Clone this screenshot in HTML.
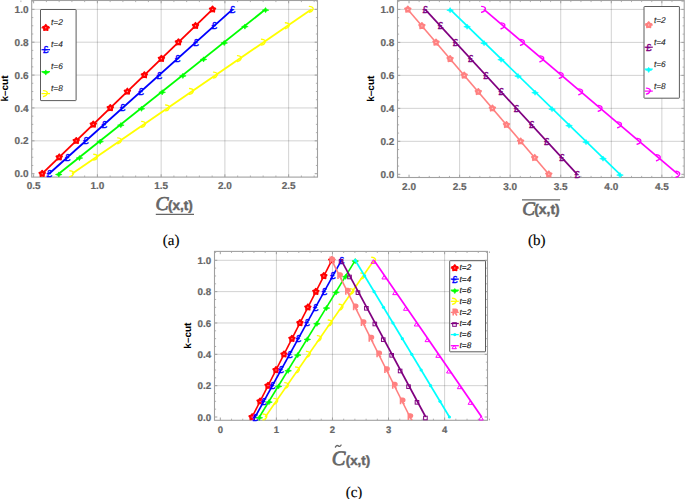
<!DOCTYPE html><html><head><meta charset="utf-8"><style>html,body{margin:0;padding:0;background:#fff;}svg{display:block;} text{text-rendering:geometricPrecision;}</style></head><body>
<svg width="685" height="499" viewBox="0 0 685 499">
<rect width="685" height="499" fill="#fff"/>
<line x1="97.4" y1="0.5" x2="97.4" y2="177.1" stroke="#000" stroke-opacity="0.18" stroke-width="1"/>
<line x1="161.15" y1="0.5" x2="161.15" y2="177.1" stroke="#000" stroke-opacity="0.18" stroke-width="1"/>
<line x1="224.9" y1="0.5" x2="224.9" y2="177.1" stroke="#000" stroke-opacity="0.18" stroke-width="1"/>
<line x1="288.65" y1="0.5" x2="288.65" y2="177.1" stroke="#000" stroke-opacity="0.18" stroke-width="1"/>
<line x1="31.7" y1="140.83" x2="317.5" y2="140.83" stroke="#000" stroke-opacity="0.18" stroke-width="1"/>
<line x1="31.7" y1="107.95" x2="317.5" y2="107.95" stroke="#000" stroke-opacity="0.18" stroke-width="1"/>
<line x1="31.7" y1="75.08" x2="317.5" y2="75.08" stroke="#000" stroke-opacity="0.18" stroke-width="1"/>
<line x1="31.7" y1="42.2" x2="317.5" y2="42.2" stroke="#000" stroke-opacity="0.18" stroke-width="1"/>
<line x1="31.7" y1="9.33" x2="317.5" y2="9.33" stroke="#000" stroke-opacity="0.18" stroke-width="1"/>
<line x1="33.65" y1="177.1" x2="33.65" y2="174.3" stroke="#a0a0a0" stroke-width="1"/>
<line x1="33.65" y1="0.5" x2="33.65" y2="3.3" stroke="#a0a0a0" stroke-width="1"/>
<line x1="97.4" y1="177.1" x2="97.4" y2="174.3" stroke="#a0a0a0" stroke-width="1"/>
<line x1="97.4" y1="0.5" x2="97.4" y2="3.3" stroke="#a0a0a0" stroke-width="1"/>
<line x1="161.15" y1="177.1" x2="161.15" y2="174.3" stroke="#a0a0a0" stroke-width="1"/>
<line x1="161.15" y1="0.5" x2="161.15" y2="3.3" stroke="#a0a0a0" stroke-width="1"/>
<line x1="224.9" y1="177.1" x2="224.9" y2="174.3" stroke="#a0a0a0" stroke-width="1"/>
<line x1="224.9" y1="0.5" x2="224.9" y2="3.3" stroke="#a0a0a0" stroke-width="1"/>
<line x1="288.65" y1="177.1" x2="288.65" y2="174.3" stroke="#a0a0a0" stroke-width="1"/>
<line x1="288.65" y1="0.5" x2="288.65" y2="3.3" stroke="#a0a0a0" stroke-width="1"/>
<line x1="46.4" y1="177.1" x2="46.4" y2="175.5" stroke="#a0a0a0" stroke-width="0.8"/>
<line x1="46.4" y1="0.5" x2="46.4" y2="2.1" stroke="#a0a0a0" stroke-width="0.8"/>
<line x1="59.15" y1="177.1" x2="59.15" y2="175.5" stroke="#a0a0a0" stroke-width="0.8"/>
<line x1="59.15" y1="0.5" x2="59.15" y2="2.1" stroke="#a0a0a0" stroke-width="0.8"/>
<line x1="71.9" y1="177.1" x2="71.9" y2="175.5" stroke="#a0a0a0" stroke-width="0.8"/>
<line x1="71.9" y1="0.5" x2="71.9" y2="2.1" stroke="#a0a0a0" stroke-width="0.8"/>
<line x1="84.65" y1="177.1" x2="84.65" y2="175.5" stroke="#a0a0a0" stroke-width="0.8"/>
<line x1="84.65" y1="0.5" x2="84.65" y2="2.1" stroke="#a0a0a0" stroke-width="0.8"/>
<line x1="110.15" y1="177.1" x2="110.15" y2="175.5" stroke="#a0a0a0" stroke-width="0.8"/>
<line x1="110.15" y1="0.5" x2="110.15" y2="2.1" stroke="#a0a0a0" stroke-width="0.8"/>
<line x1="122.9" y1="177.1" x2="122.9" y2="175.5" stroke="#a0a0a0" stroke-width="0.8"/>
<line x1="122.9" y1="0.5" x2="122.9" y2="2.1" stroke="#a0a0a0" stroke-width="0.8"/>
<line x1="135.65" y1="177.1" x2="135.65" y2="175.5" stroke="#a0a0a0" stroke-width="0.8"/>
<line x1="135.65" y1="0.5" x2="135.65" y2="2.1" stroke="#a0a0a0" stroke-width="0.8"/>
<line x1="148.4" y1="177.1" x2="148.4" y2="175.5" stroke="#a0a0a0" stroke-width="0.8"/>
<line x1="148.4" y1="0.5" x2="148.4" y2="2.1" stroke="#a0a0a0" stroke-width="0.8"/>
<line x1="173.9" y1="177.1" x2="173.9" y2="175.5" stroke="#a0a0a0" stroke-width="0.8"/>
<line x1="173.9" y1="0.5" x2="173.9" y2="2.1" stroke="#a0a0a0" stroke-width="0.8"/>
<line x1="186.65" y1="177.1" x2="186.65" y2="175.5" stroke="#a0a0a0" stroke-width="0.8"/>
<line x1="186.65" y1="0.5" x2="186.65" y2="2.1" stroke="#a0a0a0" stroke-width="0.8"/>
<line x1="199.4" y1="177.1" x2="199.4" y2="175.5" stroke="#a0a0a0" stroke-width="0.8"/>
<line x1="199.4" y1="0.5" x2="199.4" y2="2.1" stroke="#a0a0a0" stroke-width="0.8"/>
<line x1="212.15" y1="177.1" x2="212.15" y2="175.5" stroke="#a0a0a0" stroke-width="0.8"/>
<line x1="212.15" y1="0.5" x2="212.15" y2="2.1" stroke="#a0a0a0" stroke-width="0.8"/>
<line x1="237.65" y1="177.1" x2="237.65" y2="175.5" stroke="#a0a0a0" stroke-width="0.8"/>
<line x1="237.65" y1="0.5" x2="237.65" y2="2.1" stroke="#a0a0a0" stroke-width="0.8"/>
<line x1="250.4" y1="177.1" x2="250.4" y2="175.5" stroke="#a0a0a0" stroke-width="0.8"/>
<line x1="250.4" y1="0.5" x2="250.4" y2="2.1" stroke="#a0a0a0" stroke-width="0.8"/>
<line x1="263.15" y1="177.1" x2="263.15" y2="175.5" stroke="#a0a0a0" stroke-width="0.8"/>
<line x1="263.15" y1="0.5" x2="263.15" y2="2.1" stroke="#a0a0a0" stroke-width="0.8"/>
<line x1="275.9" y1="177.1" x2="275.9" y2="175.5" stroke="#a0a0a0" stroke-width="0.8"/>
<line x1="275.9" y1="0.5" x2="275.9" y2="2.1" stroke="#a0a0a0" stroke-width="0.8"/>
<line x1="301.4" y1="177.1" x2="301.4" y2="175.5" stroke="#a0a0a0" stroke-width="0.8"/>
<line x1="301.4" y1="0.5" x2="301.4" y2="2.1" stroke="#a0a0a0" stroke-width="0.8"/>
<line x1="314.15" y1="177.1" x2="314.15" y2="175.5" stroke="#a0a0a0" stroke-width="0.8"/>
<line x1="314.15" y1="0.5" x2="314.15" y2="2.1" stroke="#a0a0a0" stroke-width="0.8"/>
<line x1="20.9" y1="177.1" x2="20.9" y2="175.5" stroke="#a0a0a0" stroke-width="0.8"/>
<line x1="20.9" y1="0.5" x2="20.9" y2="2.1" stroke="#a0a0a0" stroke-width="0.8"/>
<line x1="31.7" y1="173.7" x2="34.5" y2="173.7" stroke="#a0a0a0" stroke-width="1"/>
<line x1="317.5" y1="173.7" x2="314.7" y2="173.7" stroke="#a0a0a0" stroke-width="1"/>
<line x1="31.7" y1="140.83" x2="34.5" y2="140.83" stroke="#a0a0a0" stroke-width="1"/>
<line x1="317.5" y1="140.83" x2="314.7" y2="140.83" stroke="#a0a0a0" stroke-width="1"/>
<line x1="31.7" y1="107.95" x2="34.5" y2="107.95" stroke="#a0a0a0" stroke-width="1"/>
<line x1="317.5" y1="107.95" x2="314.7" y2="107.95" stroke="#a0a0a0" stroke-width="1"/>
<line x1="31.7" y1="75.08" x2="34.5" y2="75.08" stroke="#a0a0a0" stroke-width="1"/>
<line x1="317.5" y1="75.08" x2="314.7" y2="75.08" stroke="#a0a0a0" stroke-width="1"/>
<line x1="31.7" y1="42.2" x2="34.5" y2="42.2" stroke="#a0a0a0" stroke-width="1"/>
<line x1="317.5" y1="42.2" x2="314.7" y2="42.2" stroke="#a0a0a0" stroke-width="1"/>
<line x1="31.7" y1="9.33" x2="34.5" y2="9.33" stroke="#a0a0a0" stroke-width="1"/>
<line x1="317.5" y1="9.33" x2="314.7" y2="9.33" stroke="#a0a0a0" stroke-width="1"/>
<line x1="31.7" y1="165.48" x2="33.3" y2="165.48" stroke="#a0a0a0" stroke-width="0.8"/>
<line x1="317.5" y1="165.48" x2="315.9" y2="165.48" stroke="#a0a0a0" stroke-width="0.8"/>
<line x1="31.7" y1="157.26" x2="33.3" y2="157.26" stroke="#a0a0a0" stroke-width="0.8"/>
<line x1="317.5" y1="157.26" x2="315.9" y2="157.26" stroke="#a0a0a0" stroke-width="0.8"/>
<line x1="31.7" y1="149.04" x2="33.3" y2="149.04" stroke="#a0a0a0" stroke-width="0.8"/>
<line x1="317.5" y1="149.04" x2="315.9" y2="149.04" stroke="#a0a0a0" stroke-width="0.8"/>
<line x1="31.7" y1="132.61" x2="33.3" y2="132.61" stroke="#a0a0a0" stroke-width="0.8"/>
<line x1="317.5" y1="132.61" x2="315.9" y2="132.61" stroke="#a0a0a0" stroke-width="0.8"/>
<line x1="31.7" y1="124.39" x2="33.3" y2="124.39" stroke="#a0a0a0" stroke-width="0.8"/>
<line x1="317.5" y1="124.39" x2="315.9" y2="124.39" stroke="#a0a0a0" stroke-width="0.8"/>
<line x1="31.7" y1="116.17" x2="33.3" y2="116.17" stroke="#a0a0a0" stroke-width="0.8"/>
<line x1="317.5" y1="116.17" x2="315.9" y2="116.17" stroke="#a0a0a0" stroke-width="0.8"/>
<line x1="31.7" y1="99.73" x2="33.3" y2="99.73" stroke="#a0a0a0" stroke-width="0.8"/>
<line x1="317.5" y1="99.73" x2="315.9" y2="99.73" stroke="#a0a0a0" stroke-width="0.8"/>
<line x1="31.7" y1="91.51" x2="33.3" y2="91.51" stroke="#a0a0a0" stroke-width="0.8"/>
<line x1="317.5" y1="91.51" x2="315.9" y2="91.51" stroke="#a0a0a0" stroke-width="0.8"/>
<line x1="31.7" y1="83.3" x2="33.3" y2="83.3" stroke="#a0a0a0" stroke-width="0.8"/>
<line x1="317.5" y1="83.3" x2="315.9" y2="83.3" stroke="#a0a0a0" stroke-width="0.8"/>
<line x1="31.7" y1="66.86" x2="33.3" y2="66.86" stroke="#a0a0a0" stroke-width="0.8"/>
<line x1="317.5" y1="66.86" x2="315.9" y2="66.86" stroke="#a0a0a0" stroke-width="0.8"/>
<line x1="31.7" y1="58.64" x2="33.3" y2="58.64" stroke="#a0a0a0" stroke-width="0.8"/>
<line x1="317.5" y1="58.64" x2="315.9" y2="58.64" stroke="#a0a0a0" stroke-width="0.8"/>
<line x1="31.7" y1="50.42" x2="33.3" y2="50.42" stroke="#a0a0a0" stroke-width="0.8"/>
<line x1="317.5" y1="50.42" x2="315.9" y2="50.42" stroke="#a0a0a0" stroke-width="0.8"/>
<line x1="31.7" y1="33.99" x2="33.3" y2="33.99" stroke="#a0a0a0" stroke-width="0.8"/>
<line x1="317.5" y1="33.99" x2="315.9" y2="33.99" stroke="#a0a0a0" stroke-width="0.8"/>
<line x1="31.7" y1="25.77" x2="33.3" y2="25.77" stroke="#a0a0a0" stroke-width="0.8"/>
<line x1="317.5" y1="25.77" x2="315.9" y2="25.77" stroke="#a0a0a0" stroke-width="0.8"/>
<line x1="31.7" y1="17.55" x2="33.3" y2="17.55" stroke="#a0a0a0" stroke-width="0.8"/>
<line x1="317.5" y1="17.55" x2="315.9" y2="17.55" stroke="#a0a0a0" stroke-width="0.8"/>
<line x1="31.7" y1="1.11" x2="33.3" y2="1.11" stroke="#a0a0a0" stroke-width="0.8"/>
<line x1="317.5" y1="1.11" x2="315.9" y2="1.11" stroke="#a0a0a0" stroke-width="0.8"/>
<rect x="31.7" y="0.5" width="285.8" height="176.6" fill="none" stroke="#a0a0a0" stroke-width="1.1"/>
<text x="33.65" y="189.3" font-family='"Liberation Sans", sans-serif' font-size="10" font-weight="bold" font-style="normal" fill="#666666" text-anchor="middle" stroke="#666666" stroke-width="0.2" >0.5</text>
<text x="97.4" y="189.3" font-family='"Liberation Sans", sans-serif' font-size="10" font-weight="bold" font-style="normal" fill="#666666" text-anchor="middle" stroke="#666666" stroke-width="0.2" >1.0</text>
<text x="161.15" y="189.3" font-family='"Liberation Sans", sans-serif' font-size="10" font-weight="bold" font-style="normal" fill="#666666" text-anchor="middle" stroke="#666666" stroke-width="0.2" >1.5</text>
<text x="224.9" y="189.3" font-family='"Liberation Sans", sans-serif' font-size="10" font-weight="bold" font-style="normal" fill="#666666" text-anchor="middle" stroke="#666666" stroke-width="0.2" >2.0</text>
<text x="288.65" y="189.3" font-family='"Liberation Sans", sans-serif' font-size="10" font-weight="bold" font-style="normal" fill="#666666" text-anchor="middle" stroke="#666666" stroke-width="0.2" >2.5</text>
<text x="28.5" y="177.3" font-family='"Liberation Sans", sans-serif' font-size="10" font-weight="bold" font-style="normal" fill="#666666" text-anchor="end" stroke="#666666" stroke-width="0.2" >0.0</text>
<text x="28.5" y="144.43" font-family='"Liberation Sans", sans-serif' font-size="10" font-weight="bold" font-style="normal" fill="#666666" text-anchor="end" stroke="#666666" stroke-width="0.2" >0.2</text>
<text x="28.5" y="111.55" font-family='"Liberation Sans", sans-serif' font-size="10" font-weight="bold" font-style="normal" fill="#666666" text-anchor="end" stroke="#666666" stroke-width="0.2" >0.4</text>
<text x="28.5" y="78.68" font-family='"Liberation Sans", sans-serif' font-size="10" font-weight="bold" font-style="normal" fill="#666666" text-anchor="end" stroke="#666666" stroke-width="0.2" >0.6</text>
<text x="28.5" y="45.8" font-family='"Liberation Sans", sans-serif' font-size="10" font-weight="bold" font-style="normal" fill="#666666" text-anchor="end" stroke="#666666" stroke-width="0.2" >0.8</text>
<text x="28.5" y="12.93" font-family='"Liberation Sans", sans-serif' font-size="10" font-weight="bold" font-style="normal" fill="#666666" text-anchor="end" stroke="#666666" stroke-width="0.2" >1.0</text>
<line x1="42.19" y1="173.7" x2="212.53" y2="9.33" stroke="#ff0000" stroke-width="1.85" stroke-linecap="butt"/>
<polygon points="42.19,170.55 43.4,172.04 45.19,172.73 44.14,174.33 44.04,176.25 42.19,175.75 40.34,176.25 40.24,174.33 39.2,172.73 40.99,172.04" fill="#ff0000" stroke="#ff0000" stroke-width="1.5" stroke-linejoin="round"/><circle cx="42.19" cy="173.7" r="0.7" fill="#fff" opacity="0.55"/>
<polygon points="59.23,154.11 60.43,155.6 62.22,156.29 61.18,157.9 61.08,159.81 59.23,159.31 57.37,159.81 57.28,157.9 56.23,156.29 58.02,155.6" fill="#ff0000" stroke="#ff0000" stroke-width="1.5" stroke-linejoin="round"/><circle cx="59.23" cy="157.26" r="0.7" fill="#fff" opacity="0.55"/>
<polygon points="76.26,137.68 77.47,139.17 79.26,139.85 78.21,141.46 78.11,143.37 76.26,142.88 74.41,143.37 74.31,141.46 73.26,139.85 75.06,139.17" fill="#ff0000" stroke="#ff0000" stroke-width="1.5" stroke-linejoin="round"/><circle cx="76.26" cy="140.83" r="0.7" fill="#fff" opacity="0.55"/>
<polygon points="93.29,121.24 94.5,122.73 96.29,123.42 95.24,125.02 95.15,126.94 93.29,126.44 91.44,126.94 91.34,125.02 90.3,123.42 92.09,122.73" fill="#ff0000" stroke="#ff0000" stroke-width="1.5" stroke-linejoin="round"/><circle cx="93.29" cy="124.39" r="0.7" fill="#fff" opacity="0.55"/>
<polygon points="110.33,104.8 111.53,106.29 113.32,106.98 112.28,108.59 112.18,110.5 110.33,110 108.48,110.5 108.38,108.59 107.33,106.98 109.12,106.29" fill="#ff0000" stroke="#ff0000" stroke-width="1.5" stroke-linejoin="round"/><circle cx="110.33" cy="107.95" r="0.7" fill="#fff" opacity="0.55"/>
<polygon points="127.36,88.36 128.57,89.86 130.36,90.54 129.31,92.15 129.21,94.06 127.36,93.56 125.51,94.06 125.41,92.15 124.37,90.54 126.16,89.86" fill="#ff0000" stroke="#ff0000" stroke-width="1.5" stroke-linejoin="round"/><circle cx="127.36" cy="91.51" r="0.7" fill="#fff" opacity="0.55"/>
<polygon points="144.4,71.93 145.6,73.42 147.39,74.1 146.35,75.71 146.25,77.63 144.4,77.13 142.54,77.63 142.45,75.71 141.4,74.1 143.19,73.42" fill="#ff0000" stroke="#ff0000" stroke-width="1.5" stroke-linejoin="round"/><circle cx="144.4" cy="75.08" r="0.7" fill="#fff" opacity="0.55"/>
<polygon points="161.43,55.49 162.64,56.98 164.43,57.67 163.38,59.27 163.28,61.19 161.43,60.69 159.58,61.19 159.48,59.27 158.43,57.67 160.23,56.98" fill="#ff0000" stroke="#ff0000" stroke-width="1.5" stroke-linejoin="round"/><circle cx="161.43" cy="58.64" r="0.7" fill="#fff" opacity="0.55"/>
<polygon points="178.46,39.05 179.67,40.55 181.46,41.23 180.41,42.84 180.32,44.75 178.46,44.25 176.61,44.75 176.51,42.84 175.47,41.23 177.26,40.55" fill="#ff0000" stroke="#ff0000" stroke-width="1.5" stroke-linejoin="round"/><circle cx="178.46" cy="42.2" r="0.7" fill="#fff" opacity="0.55"/>
<polygon points="195.5,22.62 196.7,24.11 198.49,24.79 197.45,26.4 197.35,28.32 195.5,27.82 193.65,28.32 193.55,26.4 192.5,24.79 194.29,24.11" fill="#ff0000" stroke="#ff0000" stroke-width="1.5" stroke-linejoin="round"/><circle cx="195.5" cy="25.77" r="0.7" fill="#fff" opacity="0.55"/>
<polygon points="212.53,6.18 213.74,7.67 215.53,8.36 214.48,9.96 214.38,11.88 212.53,11.38 210.68,11.88 210.58,9.96 209.54,8.36 211.33,7.67" fill="#ff0000" stroke="#ff0000" stroke-width="1.5" stroke-linejoin="round"/><circle cx="212.53" cy="9.33" r="0.7" fill="#fff" opacity="0.55"/>
<line x1="49.08" y1="173.7" x2="232.55" y2="9.33" stroke="#0000ff" stroke-width="1.85" stroke-linecap="butt"/>
<text x="49.18" y="177.2" font-family='"Liberation Sans", sans-serif' font-size="10" fill="#0000ff" stroke="#0000ff" stroke-width="0.35" text-anchor="middle">&#163;</text>
<text x="67.52" y="160.76" font-family='"Liberation Sans", sans-serif' font-size="10" fill="#0000ff" stroke="#0000ff" stroke-width="0.35" text-anchor="middle">&#163;</text>
<text x="85.87" y="144.33" font-family='"Liberation Sans", sans-serif' font-size="10" fill="#0000ff" stroke="#0000ff" stroke-width="0.35" text-anchor="middle">&#163;</text>
<text x="104.22" y="127.89" font-family='"Liberation Sans", sans-serif' font-size="10" fill="#0000ff" stroke="#0000ff" stroke-width="0.35" text-anchor="middle">&#163;</text>
<text x="122.57" y="111.45" font-family='"Liberation Sans", sans-serif' font-size="10" fill="#0000ff" stroke="#0000ff" stroke-width="0.35" text-anchor="middle">&#163;</text>
<text x="140.91" y="95.01" font-family='"Liberation Sans", sans-serif' font-size="10" fill="#0000ff" stroke="#0000ff" stroke-width="0.35" text-anchor="middle">&#163;</text>
<text x="159.26" y="78.58" font-family='"Liberation Sans", sans-serif' font-size="10" fill="#0000ff" stroke="#0000ff" stroke-width="0.35" text-anchor="middle">&#163;</text>
<text x="177.61" y="62.14" font-family='"Liberation Sans", sans-serif' font-size="10" fill="#0000ff" stroke="#0000ff" stroke-width="0.35" text-anchor="middle">&#163;</text>
<text x="195.96" y="45.7" font-family='"Liberation Sans", sans-serif' font-size="10" fill="#0000ff" stroke="#0000ff" stroke-width="0.35" text-anchor="middle">&#163;</text>
<text x="214.3" y="29.27" font-family='"Liberation Sans", sans-serif' font-size="10" fill="#0000ff" stroke="#0000ff" stroke-width="0.35" text-anchor="middle">&#163;</text>
<text x="232.65" y="12.83" font-family='"Liberation Sans", sans-serif' font-size="10" fill="#0000ff" stroke="#0000ff" stroke-width="0.35" text-anchor="middle">&#163;</text>
<line x1="58.77" y1="173.7" x2="265.57" y2="9.33" stroke="#00ff00" stroke-width="1.85" stroke-linecap="butt"/>
<path d="M55.47,174.5 L57.86,173.59 L58.77,171.9 L59.68,173.59 L62.07,174.5 L59.68,175.41 L58.77,177.1 L57.86,175.41 Z" fill="#00ff00" stroke="#00ff00" stroke-width="0.6" stroke-linejoin="round"/>
<path d="M76.15,158.06 L78.54,157.15 L79.45,155.46 L80.36,157.15 L82.75,158.06 L80.36,158.97 L79.45,160.66 L78.54,158.97 Z" fill="#00ff00" stroke="#00ff00" stroke-width="0.6" stroke-linejoin="round"/>
<path d="M96.83,141.63 L99.22,140.72 L100.13,139.03 L101.04,140.72 L103.43,141.63 L101.04,142.54 L100.13,144.23 L99.22,142.54 Z" fill="#00ff00" stroke="#00ff00" stroke-width="0.6" stroke-linejoin="round"/>
<path d="M117.51,125.19 L119.9,124.28 L120.81,122.59 L121.72,124.28 L124.11,125.19 L121.72,126.1 L120.81,127.79 L119.9,126.1 Z" fill="#00ff00" stroke="#00ff00" stroke-width="0.6" stroke-linejoin="round"/>
<path d="M138.19,108.75 L140.58,107.84 L141.49,106.15 L142.4,107.84 L144.79,108.75 L142.4,109.66 L141.49,111.35 L140.58,109.66 Z" fill="#00ff00" stroke="#00ff00" stroke-width="0.6" stroke-linejoin="round"/>
<path d="M158.87,92.31 L161.26,91.4 L162.17,89.71 L163.08,91.4 L165.47,92.31 L163.08,93.22 L162.17,94.91 L161.26,93.22 Z" fill="#00ff00" stroke="#00ff00" stroke-width="0.6" stroke-linejoin="round"/>
<path d="M179.55,75.88 L181.94,74.97 L182.85,73.28 L183.76,74.97 L186.15,75.88 L183.76,76.79 L182.85,78.48 L181.94,76.79 Z" fill="#00ff00" stroke="#00ff00" stroke-width="0.6" stroke-linejoin="round"/>
<path d="M200.23,59.44 L202.62,58.53 L203.53,56.84 L204.44,58.53 L206.83,59.44 L204.44,60.35 L203.53,62.04 L202.62,60.35 Z" fill="#00ff00" stroke="#00ff00" stroke-width="0.6" stroke-linejoin="round"/>
<path d="M220.91,43 L223.3,42.09 L224.21,40.4 L225.12,42.09 L227.51,43 L225.12,43.91 L224.21,45.6 L223.3,43.91 Z" fill="#00ff00" stroke="#00ff00" stroke-width="0.6" stroke-linejoin="round"/>
<path d="M241.59,26.57 L243.98,25.66 L244.89,23.97 L245.8,25.66 L248.19,26.57 L245.8,27.48 L244.89,29.17 L243.98,27.48 Z" fill="#00ff00" stroke="#00ff00" stroke-width="0.6" stroke-linejoin="round"/>
<path d="M262.27,10.13 L264.66,9.22 L265.57,7.53 L266.48,9.22 L268.87,10.13 L266.48,11.04 L265.57,12.73 L264.66,11.04 Z" fill="#00ff00" stroke="#00ff00" stroke-width="0.6" stroke-linejoin="round"/>
<line x1="72.03" y1="173.7" x2="311.6" y2="9.33" stroke="#ffff00" stroke-width="1.85" stroke-linecap="butt"/>
<path d="M69.83,170.7 Q74.43,171.3 73.43,173.9 Q72.63,176.1 69.83,176.6" stroke="#ffff00" stroke-width="1.4" fill="none" stroke-linecap="round"/>
<path d="M93.78,154.26 Q98.38,154.86 97.38,157.46 Q96.58,159.66 93.78,160.16" stroke="#ffff00" stroke-width="1.4" fill="none" stroke-linecap="round"/>
<path d="M117.74,137.83 Q122.34,138.43 121.34,141.03 Q120.54,143.23 117.74,143.73" stroke="#ffff00" stroke-width="1.4" fill="none" stroke-linecap="round"/>
<path d="M141.7,121.39 Q146.3,121.99 145.3,124.59 Q144.5,126.79 141.7,127.29" stroke="#ffff00" stroke-width="1.4" fill="none" stroke-linecap="round"/>
<path d="M165.66,104.95 Q170.26,105.55 169.26,108.15 Q168.46,110.35 165.66,110.85" stroke="#ffff00" stroke-width="1.4" fill="none" stroke-linecap="round"/>
<path d="M189.61,88.51 Q194.21,89.11 193.21,91.71 Q192.41,93.91 189.61,94.41" stroke="#ffff00" stroke-width="1.4" fill="none" stroke-linecap="round"/>
<path d="M213.57,72.08 Q218.17,72.68 217.17,75.28 Q216.37,77.48 213.57,77.98" stroke="#ffff00" stroke-width="1.4" fill="none" stroke-linecap="round"/>
<path d="M237.53,55.64 Q242.13,56.24 241.13,58.84 Q240.33,61.04 237.53,61.54" stroke="#ffff00" stroke-width="1.4" fill="none" stroke-linecap="round"/>
<path d="M261.49,39.2 Q266.09,39.8 265.09,42.4 Q264.29,44.6 261.49,45.1" stroke="#ffff00" stroke-width="1.4" fill="none" stroke-linecap="round"/>
<path d="M285.44,22.77 Q290.04,23.37 289.04,25.97 Q288.24,28.17 285.44,28.67" stroke="#ffff00" stroke-width="1.4" fill="none" stroke-linecap="round"/>
<path d="M309.4,6.33 Q314,6.93 313,9.53 Q312.2,11.73 309.4,12.23" stroke="#ffff00" stroke-width="1.4" fill="none" stroke-linecap="round"/>
<rect x="40.5" y="9.5" width="35.6" height="91.1" fill="#fff" stroke="#5c5c5c" stroke-width="1" rx="0.5"/>
<line x1="41.5" y1="27.8" x2="50" y2="27.8" stroke="#ff0000" stroke-width="1.2"/>
<polygon points="45.8,24.65 47,26.14 48.8,26.83 47.75,28.43 47.65,30.35 45.8,29.85 43.95,30.35 43.85,28.43 42.8,26.83 44.6,26.14" fill="#ff0000" stroke="#ff0000" stroke-width="1.5" stroke-linejoin="round"/><circle cx="45.8" cy="27.8" r="0.7" fill="#fff" opacity="0.55"/>
<text x="51" y="25" font-family='"Liberation Sans", sans-serif' font-size="8.3" font-weight="normal" font-style="italic" fill="#222" text-anchor="start" stroke="#222" stroke-width="0.1" >t=2</text>
<line x1="41.5" y1="49.7" x2="50" y2="49.7" stroke="#0000ff" stroke-width="1.2"/>
<text x="45.9" y="53.2" font-family='"Liberation Sans", sans-serif' font-size="10" fill="#0000ff" stroke="#0000ff" stroke-width="0.35" text-anchor="middle">&#163;</text>
<text x="51" y="46.9" font-family='"Liberation Sans", sans-serif' font-size="8.3" font-weight="normal" font-style="italic" fill="#222" text-anchor="start" stroke="#222" stroke-width="0.1" >t=4</text>
<line x1="41.5" y1="71.7" x2="50" y2="71.7" stroke="#00ff00" stroke-width="1.2"/>
<path d="M42.5,72.5 L44.89,71.59 L45.8,69.9 L46.71,71.59 L49.1,72.5 L46.71,73.41 L45.8,75.1 L44.89,73.41 Z" fill="#00ff00" stroke="#00ff00" stroke-width="0.6" stroke-linejoin="round"/>
<text x="51" y="68.9" font-family='"Liberation Sans", sans-serif' font-size="8.3" font-weight="normal" font-style="italic" fill="#222" text-anchor="start" stroke="#222" stroke-width="0.1" >t=6</text>
<line x1="41.5" y1="93.6" x2="50" y2="93.6" stroke="#ffff00" stroke-width="1.2"/>
<path d="M43.6,90.6 Q48.2,91.2 47.2,93.8 Q46.4,96 43.6,96.5" stroke="#ffff00" stroke-width="1.4" fill="none" stroke-linecap="round"/>
<text x="51" y="90.8" font-family='"Liberation Sans", sans-serif' font-size="8.3" font-weight="normal" font-style="italic" fill="#222" text-anchor="start" stroke="#222" stroke-width="0.1" >t=8</text>
<text x="8" y="88.5" font-family='"Liberation Sans", sans-serif' font-size="10" font-weight="bold" font-style="normal" fill="#000" text-anchor="middle" transform="rotate(-90 8 88.5)">k&#8211;cut</text>
<line x1="459.61" y1="0.5" x2="459.61" y2="177.5" stroke="#000" stroke-opacity="0.18" stroke-width="1"/>
<line x1="510.17" y1="0.5" x2="510.17" y2="177.5" stroke="#000" stroke-opacity="0.18" stroke-width="1"/>
<line x1="560.74" y1="0.5" x2="560.74" y2="177.5" stroke="#000" stroke-opacity="0.18" stroke-width="1"/>
<line x1="611.3" y1="0.5" x2="611.3" y2="177.5" stroke="#000" stroke-opacity="0.18" stroke-width="1"/>
<line x1="661.87" y1="0.5" x2="661.87" y2="177.5" stroke="#000" stroke-opacity="0.18" stroke-width="1"/>
<line x1="397.5" y1="141.32" x2="684.2" y2="141.32" stroke="#000" stroke-opacity="0.18" stroke-width="1"/>
<line x1="397.5" y1="108.34" x2="684.2" y2="108.34" stroke="#000" stroke-opacity="0.18" stroke-width="1"/>
<line x1="397.5" y1="75.36" x2="684.2" y2="75.36" stroke="#000" stroke-opacity="0.18" stroke-width="1"/>
<line x1="397.5" y1="42.38" x2="684.2" y2="42.38" stroke="#000" stroke-opacity="0.18" stroke-width="1"/>
<line x1="397.5" y1="9.4" x2="684.2" y2="9.4" stroke="#000" stroke-opacity="0.18" stroke-width="1"/>
<line x1="409.04" y1="177.5" x2="409.04" y2="174.7" stroke="#a0a0a0" stroke-width="1"/>
<line x1="409.04" y1="0.5" x2="409.04" y2="3.3" stroke="#a0a0a0" stroke-width="1"/>
<line x1="459.61" y1="177.5" x2="459.61" y2="174.7" stroke="#a0a0a0" stroke-width="1"/>
<line x1="459.61" y1="0.5" x2="459.61" y2="3.3" stroke="#a0a0a0" stroke-width="1"/>
<line x1="510.17" y1="177.5" x2="510.17" y2="174.7" stroke="#a0a0a0" stroke-width="1"/>
<line x1="510.17" y1="0.5" x2="510.17" y2="3.3" stroke="#a0a0a0" stroke-width="1"/>
<line x1="560.74" y1="177.5" x2="560.74" y2="174.7" stroke="#a0a0a0" stroke-width="1"/>
<line x1="560.74" y1="0.5" x2="560.74" y2="3.3" stroke="#a0a0a0" stroke-width="1"/>
<line x1="611.3" y1="177.5" x2="611.3" y2="174.7" stroke="#a0a0a0" stroke-width="1"/>
<line x1="611.3" y1="0.5" x2="611.3" y2="3.3" stroke="#a0a0a0" stroke-width="1"/>
<line x1="661.87" y1="177.5" x2="661.87" y2="174.7" stroke="#a0a0a0" stroke-width="1"/>
<line x1="661.87" y1="0.5" x2="661.87" y2="3.3" stroke="#a0a0a0" stroke-width="1"/>
<line x1="398.93" y1="177.5" x2="398.93" y2="175.9" stroke="#a0a0a0" stroke-width="0.8"/>
<line x1="398.93" y1="0.5" x2="398.93" y2="2.1" stroke="#a0a0a0" stroke-width="0.8"/>
<line x1="419.15" y1="177.5" x2="419.15" y2="175.9" stroke="#a0a0a0" stroke-width="0.8"/>
<line x1="419.15" y1="0.5" x2="419.15" y2="2.1" stroke="#a0a0a0" stroke-width="0.8"/>
<line x1="429.27" y1="177.5" x2="429.27" y2="175.9" stroke="#a0a0a0" stroke-width="0.8"/>
<line x1="429.27" y1="0.5" x2="429.27" y2="2.1" stroke="#a0a0a0" stroke-width="0.8"/>
<line x1="439.38" y1="177.5" x2="439.38" y2="175.9" stroke="#a0a0a0" stroke-width="0.8"/>
<line x1="439.38" y1="0.5" x2="439.38" y2="2.1" stroke="#a0a0a0" stroke-width="0.8"/>
<line x1="449.49" y1="177.5" x2="449.49" y2="175.9" stroke="#a0a0a0" stroke-width="0.8"/>
<line x1="449.49" y1="0.5" x2="449.49" y2="2.1" stroke="#a0a0a0" stroke-width="0.8"/>
<line x1="469.72" y1="177.5" x2="469.72" y2="175.9" stroke="#a0a0a0" stroke-width="0.8"/>
<line x1="469.72" y1="0.5" x2="469.72" y2="2.1" stroke="#a0a0a0" stroke-width="0.8"/>
<line x1="479.83" y1="177.5" x2="479.83" y2="175.9" stroke="#a0a0a0" stroke-width="0.8"/>
<line x1="479.83" y1="0.5" x2="479.83" y2="2.1" stroke="#a0a0a0" stroke-width="0.8"/>
<line x1="489.94" y1="177.5" x2="489.94" y2="175.9" stroke="#a0a0a0" stroke-width="0.8"/>
<line x1="489.94" y1="0.5" x2="489.94" y2="2.1" stroke="#a0a0a0" stroke-width="0.8"/>
<line x1="500.06" y1="177.5" x2="500.06" y2="175.9" stroke="#a0a0a0" stroke-width="0.8"/>
<line x1="500.06" y1="0.5" x2="500.06" y2="2.1" stroke="#a0a0a0" stroke-width="0.8"/>
<line x1="520.28" y1="177.5" x2="520.28" y2="175.9" stroke="#a0a0a0" stroke-width="0.8"/>
<line x1="520.28" y1="0.5" x2="520.28" y2="2.1" stroke="#a0a0a0" stroke-width="0.8"/>
<line x1="530.4" y1="177.5" x2="530.4" y2="175.9" stroke="#a0a0a0" stroke-width="0.8"/>
<line x1="530.4" y1="0.5" x2="530.4" y2="2.1" stroke="#a0a0a0" stroke-width="0.8"/>
<line x1="540.51" y1="177.5" x2="540.51" y2="175.9" stroke="#a0a0a0" stroke-width="0.8"/>
<line x1="540.51" y1="0.5" x2="540.51" y2="2.1" stroke="#a0a0a0" stroke-width="0.8"/>
<line x1="550.62" y1="177.5" x2="550.62" y2="175.9" stroke="#a0a0a0" stroke-width="0.8"/>
<line x1="550.62" y1="0.5" x2="550.62" y2="2.1" stroke="#a0a0a0" stroke-width="0.8"/>
<line x1="570.85" y1="177.5" x2="570.85" y2="175.9" stroke="#a0a0a0" stroke-width="0.8"/>
<line x1="570.85" y1="0.5" x2="570.85" y2="2.1" stroke="#a0a0a0" stroke-width="0.8"/>
<line x1="580.96" y1="177.5" x2="580.96" y2="175.9" stroke="#a0a0a0" stroke-width="0.8"/>
<line x1="580.96" y1="0.5" x2="580.96" y2="2.1" stroke="#a0a0a0" stroke-width="0.8"/>
<line x1="591.07" y1="177.5" x2="591.07" y2="175.9" stroke="#a0a0a0" stroke-width="0.8"/>
<line x1="591.07" y1="0.5" x2="591.07" y2="2.1" stroke="#a0a0a0" stroke-width="0.8"/>
<line x1="601.19" y1="177.5" x2="601.19" y2="175.9" stroke="#a0a0a0" stroke-width="0.8"/>
<line x1="601.19" y1="0.5" x2="601.19" y2="2.1" stroke="#a0a0a0" stroke-width="0.8"/>
<line x1="621.41" y1="177.5" x2="621.41" y2="175.9" stroke="#a0a0a0" stroke-width="0.8"/>
<line x1="621.41" y1="0.5" x2="621.41" y2="2.1" stroke="#a0a0a0" stroke-width="0.8"/>
<line x1="631.53" y1="177.5" x2="631.53" y2="175.9" stroke="#a0a0a0" stroke-width="0.8"/>
<line x1="631.53" y1="0.5" x2="631.53" y2="2.1" stroke="#a0a0a0" stroke-width="0.8"/>
<line x1="641.64" y1="177.5" x2="641.64" y2="175.9" stroke="#a0a0a0" stroke-width="0.8"/>
<line x1="641.64" y1="0.5" x2="641.64" y2="2.1" stroke="#a0a0a0" stroke-width="0.8"/>
<line x1="651.75" y1="177.5" x2="651.75" y2="175.9" stroke="#a0a0a0" stroke-width="0.8"/>
<line x1="651.75" y1="0.5" x2="651.75" y2="2.1" stroke="#a0a0a0" stroke-width="0.8"/>
<line x1="671.98" y1="177.5" x2="671.98" y2="175.9" stroke="#a0a0a0" stroke-width="0.8"/>
<line x1="671.98" y1="0.5" x2="671.98" y2="2.1" stroke="#a0a0a0" stroke-width="0.8"/>
<line x1="682.09" y1="177.5" x2="682.09" y2="175.9" stroke="#a0a0a0" stroke-width="0.8"/>
<line x1="682.09" y1="0.5" x2="682.09" y2="2.1" stroke="#a0a0a0" stroke-width="0.8"/>
<line x1="397.5" y1="174.3" x2="400.3" y2="174.3" stroke="#a0a0a0" stroke-width="1"/>
<line x1="684.2" y1="174.3" x2="681.4" y2="174.3" stroke="#a0a0a0" stroke-width="1"/>
<line x1="397.5" y1="141.32" x2="400.3" y2="141.32" stroke="#a0a0a0" stroke-width="1"/>
<line x1="684.2" y1="141.32" x2="681.4" y2="141.32" stroke="#a0a0a0" stroke-width="1"/>
<line x1="397.5" y1="108.34" x2="400.3" y2="108.34" stroke="#a0a0a0" stroke-width="1"/>
<line x1="684.2" y1="108.34" x2="681.4" y2="108.34" stroke="#a0a0a0" stroke-width="1"/>
<line x1="397.5" y1="75.36" x2="400.3" y2="75.36" stroke="#a0a0a0" stroke-width="1"/>
<line x1="684.2" y1="75.36" x2="681.4" y2="75.36" stroke="#a0a0a0" stroke-width="1"/>
<line x1="397.5" y1="42.38" x2="400.3" y2="42.38" stroke="#a0a0a0" stroke-width="1"/>
<line x1="684.2" y1="42.38" x2="681.4" y2="42.38" stroke="#a0a0a0" stroke-width="1"/>
<line x1="397.5" y1="9.4" x2="400.3" y2="9.4" stroke="#a0a0a0" stroke-width="1"/>
<line x1="684.2" y1="9.4" x2="681.4" y2="9.4" stroke="#a0a0a0" stroke-width="1"/>
<line x1="397.5" y1="166.06" x2="399.1" y2="166.06" stroke="#a0a0a0" stroke-width="0.8"/>
<line x1="684.2" y1="166.06" x2="682.6" y2="166.06" stroke="#a0a0a0" stroke-width="0.8"/>
<line x1="397.5" y1="157.81" x2="399.1" y2="157.81" stroke="#a0a0a0" stroke-width="0.8"/>
<line x1="684.2" y1="157.81" x2="682.6" y2="157.81" stroke="#a0a0a0" stroke-width="0.8"/>
<line x1="397.5" y1="149.56" x2="399.1" y2="149.56" stroke="#a0a0a0" stroke-width="0.8"/>
<line x1="684.2" y1="149.56" x2="682.6" y2="149.56" stroke="#a0a0a0" stroke-width="0.8"/>
<line x1="397.5" y1="133.08" x2="399.1" y2="133.08" stroke="#a0a0a0" stroke-width="0.8"/>
<line x1="684.2" y1="133.08" x2="682.6" y2="133.08" stroke="#a0a0a0" stroke-width="0.8"/>
<line x1="397.5" y1="124.83" x2="399.1" y2="124.83" stroke="#a0a0a0" stroke-width="0.8"/>
<line x1="684.2" y1="124.83" x2="682.6" y2="124.83" stroke="#a0a0a0" stroke-width="0.8"/>
<line x1="397.5" y1="116.59" x2="399.1" y2="116.59" stroke="#a0a0a0" stroke-width="0.8"/>
<line x1="684.2" y1="116.59" x2="682.6" y2="116.59" stroke="#a0a0a0" stroke-width="0.8"/>
<line x1="397.5" y1="100.1" x2="399.1" y2="100.1" stroke="#a0a0a0" stroke-width="0.8"/>
<line x1="684.2" y1="100.1" x2="682.6" y2="100.1" stroke="#a0a0a0" stroke-width="0.8"/>
<line x1="397.5" y1="91.85" x2="399.1" y2="91.85" stroke="#a0a0a0" stroke-width="0.8"/>
<line x1="684.2" y1="91.85" x2="682.6" y2="91.85" stroke="#a0a0a0" stroke-width="0.8"/>
<line x1="397.5" y1="83.61" x2="399.1" y2="83.61" stroke="#a0a0a0" stroke-width="0.8"/>
<line x1="684.2" y1="83.61" x2="682.6" y2="83.61" stroke="#a0a0a0" stroke-width="0.8"/>
<line x1="397.5" y1="67.12" x2="399.1" y2="67.12" stroke="#a0a0a0" stroke-width="0.8"/>
<line x1="684.2" y1="67.12" x2="682.6" y2="67.12" stroke="#a0a0a0" stroke-width="0.8"/>
<line x1="397.5" y1="58.87" x2="399.1" y2="58.87" stroke="#a0a0a0" stroke-width="0.8"/>
<line x1="684.2" y1="58.87" x2="682.6" y2="58.87" stroke="#a0a0a0" stroke-width="0.8"/>
<line x1="397.5" y1="50.62" x2="399.1" y2="50.62" stroke="#a0a0a0" stroke-width="0.8"/>
<line x1="684.2" y1="50.62" x2="682.6" y2="50.62" stroke="#a0a0a0" stroke-width="0.8"/>
<line x1="397.5" y1="34.14" x2="399.1" y2="34.14" stroke="#a0a0a0" stroke-width="0.8"/>
<line x1="684.2" y1="34.14" x2="682.6" y2="34.14" stroke="#a0a0a0" stroke-width="0.8"/>
<line x1="397.5" y1="25.89" x2="399.1" y2="25.89" stroke="#a0a0a0" stroke-width="0.8"/>
<line x1="684.2" y1="25.89" x2="682.6" y2="25.89" stroke="#a0a0a0" stroke-width="0.8"/>
<line x1="397.5" y1="17.65" x2="399.1" y2="17.65" stroke="#a0a0a0" stroke-width="0.8"/>
<line x1="684.2" y1="17.65" x2="682.6" y2="17.65" stroke="#a0a0a0" stroke-width="0.8"/>
<line x1="397.5" y1="1.16" x2="399.1" y2="1.16" stroke="#a0a0a0" stroke-width="0.8"/>
<line x1="684.2" y1="1.16" x2="682.6" y2="1.16" stroke="#a0a0a0" stroke-width="0.8"/>
<rect x="397.5" y="0.5" width="286.7" height="177" fill="none" stroke="#a0a0a0" stroke-width="1.1"/>
<text x="409.04" y="189.7" font-family='"Liberation Sans", sans-serif' font-size="10" font-weight="bold" font-style="normal" fill="#666666" text-anchor="middle" stroke="#666666" stroke-width="0.2" >2.0</text>
<text x="459.61" y="189.7" font-family='"Liberation Sans", sans-serif' font-size="10" font-weight="bold" font-style="normal" fill="#666666" text-anchor="middle" stroke="#666666" stroke-width="0.2" >2.5</text>
<text x="510.17" y="189.7" font-family='"Liberation Sans", sans-serif' font-size="10" font-weight="bold" font-style="normal" fill="#666666" text-anchor="middle" stroke="#666666" stroke-width="0.2" >3.0</text>
<text x="560.74" y="189.7" font-family='"Liberation Sans", sans-serif' font-size="10" font-weight="bold" font-style="normal" fill="#666666" text-anchor="middle" stroke="#666666" stroke-width="0.2" >3.5</text>
<text x="611.3" y="189.7" font-family='"Liberation Sans", sans-serif' font-size="10" font-weight="bold" font-style="normal" fill="#666666" text-anchor="middle" stroke="#666666" stroke-width="0.2" >4.0</text>
<text x="661.87" y="189.7" font-family='"Liberation Sans", sans-serif' font-size="10" font-weight="bold" font-style="normal" fill="#666666" text-anchor="middle" stroke="#666666" stroke-width="0.2" >4.5</text>
<text x="394.3" y="177.9" font-family='"Liberation Sans", sans-serif' font-size="10" font-weight="bold" font-style="normal" fill="#666666" text-anchor="end" stroke="#666666" stroke-width="0.2" >0.0</text>
<text x="394.3" y="144.92" font-family='"Liberation Sans", sans-serif' font-size="10" font-weight="bold" font-style="normal" fill="#666666" text-anchor="end" stroke="#666666" stroke-width="0.2" >0.2</text>
<text x="394.3" y="111.94" font-family='"Liberation Sans", sans-serif' font-size="10" font-weight="bold" font-style="normal" fill="#666666" text-anchor="end" stroke="#666666" stroke-width="0.2" >0.4</text>
<text x="394.3" y="78.96" font-family='"Liberation Sans", sans-serif' font-size="10" font-weight="bold" font-style="normal" fill="#666666" text-anchor="end" stroke="#666666" stroke-width="0.2" >0.6</text>
<text x="394.3" y="45.98" font-family='"Liberation Sans", sans-serif' font-size="10" font-weight="bold" font-style="normal" fill="#666666" text-anchor="end" stroke="#666666" stroke-width="0.2" >0.8</text>
<text x="394.3" y="13" font-family='"Liberation Sans", sans-serif' font-size="10" font-weight="bold" font-style="normal" fill="#666666" text-anchor="end" stroke="#666666" stroke-width="0.2" >1.0</text>
<line x1="548.8" y1="174.3" x2="407.83" y2="9.4" stroke="#ff8080" stroke-width="1.6" stroke-linecap="butt"/>
<polygon points="548.8,171.15 550.01,172.64 551.8,173.33 550.75,174.93 550.65,176.85 548.8,176.35 546.95,176.85 546.85,174.93 545.81,173.33 547.6,172.64" fill="#ff8080" stroke="#ff8080" stroke-width="1.5" stroke-linejoin="round"/><circle cx="548.8" cy="174.3" r="0.7" fill="#fff" opacity="0.55"/>
<polygon points="534.7,154.66 535.91,156.15 537.7,156.84 536.65,158.44 536.56,160.36 534.7,159.86 532.85,160.36 532.75,158.44 531.71,156.84 533.5,156.15" fill="#ff8080" stroke="#ff8080" stroke-width="1.5" stroke-linejoin="round"/><circle cx="534.7" cy="157.81" r="0.7" fill="#fff" opacity="0.55"/>
<polygon points="520.61,138.17 521.81,139.66 523.6,140.35 522.56,141.95 522.46,143.87 520.61,143.37 518.76,143.87 518.66,141.95 517.61,140.35 519.4,139.66" fill="#ff8080" stroke="#ff8080" stroke-width="1.5" stroke-linejoin="round"/><circle cx="520.61" cy="141.32" r="0.7" fill="#fff" opacity="0.55"/>
<polygon points="506.51,121.68 507.71,123.17 509.5,123.86 508.46,125.46 508.36,127.38 506.51,126.88 504.66,127.38 504.56,125.46 503.51,123.86 505.3,123.17" fill="#ff8080" stroke="#ff8080" stroke-width="1.5" stroke-linejoin="round"/><circle cx="506.51" cy="124.83" r="0.7" fill="#fff" opacity="0.55"/>
<polygon points="492.41,105.19 493.62,106.68 495.41,107.37 494.36,108.97 494.26,110.89 492.41,110.39 490.56,110.89 490.46,108.97 489.42,107.37 491.21,106.68" fill="#ff8080" stroke="#ff8080" stroke-width="1.5" stroke-linejoin="round"/><circle cx="492.41" cy="108.34" r="0.7" fill="#fff" opacity="0.55"/>
<polygon points="478.31,88.7 479.52,90.19 481.31,90.88 480.26,92.48 480.17,94.4 478.31,93.9 476.46,94.4 476.36,92.48 475.32,90.88 477.11,90.19" fill="#ff8080" stroke="#ff8080" stroke-width="1.5" stroke-linejoin="round"/><circle cx="478.31" cy="91.85" r="0.7" fill="#fff" opacity="0.55"/>
<polygon points="464.22,72.21 465.42,73.7 467.21,74.39 466.17,75.99 466.07,77.91 464.22,77.41 462.37,77.91 462.27,75.99 461.22,74.39 463.01,73.7" fill="#ff8080" stroke="#ff8080" stroke-width="1.5" stroke-linejoin="round"/><circle cx="464.22" cy="75.36" r="0.7" fill="#fff" opacity="0.55"/>
<polygon points="450.12,55.72 451.32,57.21 453.11,57.9 452.07,59.5 451.97,61.42 450.12,60.92 448.27,61.42 448.17,59.5 447.12,57.9 448.91,57.21" fill="#ff8080" stroke="#ff8080" stroke-width="1.5" stroke-linejoin="round"/><circle cx="450.12" cy="58.87" r="0.7" fill="#fff" opacity="0.55"/>
<polygon points="436.02,39.23 437.23,40.72 439.02,41.41 437.97,43.01 437.87,44.93 436.02,44.43 434.17,44.93 434.07,43.01 433.03,41.41 434.82,40.72" fill="#ff8080" stroke="#ff8080" stroke-width="1.5" stroke-linejoin="round"/><circle cx="436.02" cy="42.38" r="0.7" fill="#fff" opacity="0.55"/>
<polygon points="421.92,22.74 423.13,24.23 424.92,24.92 423.87,26.52 423.78,28.44 421.92,27.94 420.07,28.44 419.97,26.52 418.93,24.92 420.72,24.23" fill="#ff8080" stroke="#ff8080" stroke-width="1.5" stroke-linejoin="round"/><circle cx="421.92" cy="25.89" r="0.7" fill="#fff" opacity="0.55"/>
<polygon points="407.83,6.25 409.03,7.74 410.82,8.43 409.78,10.03 409.68,11.95 407.83,11.45 405.97,11.95 405.88,10.03 404.83,8.43 406.62,7.74" fill="#ff8080" stroke="#ff8080" stroke-width="1.5" stroke-linejoin="round"/><circle cx="407.83" cy="9.4" r="0.7" fill="#fff" opacity="0.55"/>
<line x1="577.22" y1="174.3" x2="425.12" y2="9.4" stroke="#800080" stroke-width="1.7" stroke-linecap="butt"/>
<text x="577.32" y="177.8" font-family='"Liberation Sans", sans-serif' font-size="10" fill="#800080" stroke="#800080" stroke-width="0.35" text-anchor="middle">&#163;</text>
<text x="562.11" y="161.31" font-family='"Liberation Sans", sans-serif' font-size="10" fill="#800080" stroke="#800080" stroke-width="0.35" text-anchor="middle">&#163;</text>
<text x="546.9" y="144.82" font-family='"Liberation Sans", sans-serif' font-size="10" fill="#800080" stroke="#800080" stroke-width="0.35" text-anchor="middle">&#163;</text>
<text x="531.69" y="128.33" font-family='"Liberation Sans", sans-serif' font-size="10" fill="#800080" stroke="#800080" stroke-width="0.35" text-anchor="middle">&#163;</text>
<text x="516.48" y="111.84" font-family='"Liberation Sans", sans-serif' font-size="10" fill="#800080" stroke="#800080" stroke-width="0.35" text-anchor="middle">&#163;</text>
<text x="501.27" y="95.35" font-family='"Liberation Sans", sans-serif' font-size="10" fill="#800080" stroke="#800080" stroke-width="0.35" text-anchor="middle">&#163;</text>
<text x="486.06" y="78.86" font-family='"Liberation Sans", sans-serif' font-size="10" fill="#800080" stroke="#800080" stroke-width="0.35" text-anchor="middle">&#163;</text>
<text x="470.85" y="62.37" font-family='"Liberation Sans", sans-serif' font-size="10" fill="#800080" stroke="#800080" stroke-width="0.35" text-anchor="middle">&#163;</text>
<text x="455.64" y="45.88" font-family='"Liberation Sans", sans-serif' font-size="10" fill="#800080" stroke="#800080" stroke-width="0.35" text-anchor="middle">&#163;</text>
<text x="440.43" y="29.39" font-family='"Liberation Sans", sans-serif' font-size="10" fill="#800080" stroke="#800080" stroke-width="0.35" text-anchor="middle">&#163;</text>
<text x="425.22" y="12.9" font-family='"Liberation Sans", sans-serif' font-size="10" fill="#800080" stroke="#800080" stroke-width="0.35" text-anchor="middle">&#163;</text>
<line x1="620" y1="174.3" x2="450.1" y2="9.4" stroke="#00ffff" stroke-width="1.7" stroke-linecap="butt"/>
<path d="M616.7,175.1 L619.09,174.19 L620,172.5 L620.91,174.19 L623.3,175.1 L620.91,176.01 L620,177.7 L619.09,176.01 Z" fill="#00ffff" stroke="#00ffff" stroke-width="0.6" stroke-linejoin="round"/>
<path d="M599.71,158.61 L602.1,157.7 L603.01,156.01 L603.92,157.7 L606.31,158.61 L603.92,159.52 L603.01,161.21 L602.1,159.52 Z" fill="#00ffff" stroke="#00ffff" stroke-width="0.6" stroke-linejoin="round"/>
<path d="M582.72,142.12 L585.11,141.21 L586.02,139.52 L586.93,141.21 L589.32,142.12 L586.93,143.03 L586.02,144.72 L585.11,143.03 Z" fill="#00ffff" stroke="#00ffff" stroke-width="0.6" stroke-linejoin="round"/>
<path d="M565.73,125.63 L568.12,124.72 L569.03,123.03 L569.94,124.72 L572.33,125.63 L569.94,126.54 L569.03,128.23 L568.12,126.54 Z" fill="#00ffff" stroke="#00ffff" stroke-width="0.6" stroke-linejoin="round"/>
<path d="M548.74,109.14 L551.13,108.23 L552.04,106.54 L552.95,108.23 L555.34,109.14 L552.95,110.05 L552.04,111.74 L551.13,110.05 Z" fill="#00ffff" stroke="#00ffff" stroke-width="0.6" stroke-linejoin="round"/>
<path d="M531.75,92.65 L534.14,91.74 L535.05,90.05 L535.96,91.74 L538.35,92.65 L535.96,93.56 L535.05,95.25 L534.14,93.56 Z" fill="#00ffff" stroke="#00ffff" stroke-width="0.6" stroke-linejoin="round"/>
<path d="M514.76,76.16 L517.15,75.25 L518.06,73.56 L518.97,75.25 L521.36,76.16 L518.97,77.07 L518.06,78.76 L517.15,77.07 Z" fill="#00ffff" stroke="#00ffff" stroke-width="0.6" stroke-linejoin="round"/>
<path d="M497.77,59.67 L500.16,58.76 L501.07,57.07 L501.98,58.76 L504.37,59.67 L501.98,60.58 L501.07,62.27 L500.16,60.58 Z" fill="#00ffff" stroke="#00ffff" stroke-width="0.6" stroke-linejoin="round"/>
<path d="M480.78,43.18 L483.17,42.27 L484.08,40.58 L484.99,42.27 L487.38,43.18 L484.99,44.09 L484.08,45.78 L483.17,44.09 Z" fill="#00ffff" stroke="#00ffff" stroke-width="0.6" stroke-linejoin="round"/>
<path d="M463.79,26.69 L466.18,25.78 L467.09,24.09 L468,25.78 L470.39,26.69 L468,27.6 L467.09,29.29 L466.18,27.6 Z" fill="#00ffff" stroke="#00ffff" stroke-width="0.6" stroke-linejoin="round"/>
<path d="M446.8,10.2 L449.19,9.29 L450.1,7.6 L451.01,9.29 L453.4,10.2 L451.01,11.11 L450.1,12.8 L449.19,11.11 Z" fill="#00ffff" stroke="#00ffff" stroke-width="0.6" stroke-linejoin="round"/>
<line x1="678.15" y1="174.3" x2="483.88" y2="9.4" stroke="#ff00ff" stroke-width="1.7" stroke-linecap="butt"/>
<path d="M675.95,171.3 Q680.55,171.9 679.55,174.5 Q678.75,176.7 675.95,177.2" stroke="#ff00ff" stroke-width="1.4" fill="none" stroke-linecap="round"/>
<path d="M656.52,154.81 Q661.12,155.41 660.12,158.01 Q659.32,160.21 656.52,160.71" stroke="#ff00ff" stroke-width="1.4" fill="none" stroke-linecap="round"/>
<path d="M637.09,138.32 Q641.69,138.92 640.69,141.52 Q639.89,143.72 637.09,144.22" stroke="#ff00ff" stroke-width="1.4" fill="none" stroke-linecap="round"/>
<path d="M617.67,121.83 Q622.27,122.43 621.27,125.03 Q620.47,127.23 617.67,127.73" stroke="#ff00ff" stroke-width="1.4" fill="none" stroke-linecap="round"/>
<path d="M598.24,105.34 Q602.84,105.94 601.84,108.54 Q601.04,110.74 598.24,111.24" stroke="#ff00ff" stroke-width="1.4" fill="none" stroke-linecap="round"/>
<path d="M578.81,88.85 Q583.41,89.45 582.41,92.05 Q581.61,94.25 578.81,94.75" stroke="#ff00ff" stroke-width="1.4" fill="none" stroke-linecap="round"/>
<path d="M559.38,72.36 Q563.98,72.96 562.98,75.56 Q562.18,77.76 559.38,78.26" stroke="#ff00ff" stroke-width="1.4" fill="none" stroke-linecap="round"/>
<path d="M539.96,55.87 Q544.56,56.47 543.56,59.07 Q542.76,61.27 539.96,61.77" stroke="#ff00ff" stroke-width="1.4" fill="none" stroke-linecap="round"/>
<path d="M520.53,39.38 Q525.13,39.98 524.13,42.58 Q523.33,44.78 520.53,45.28" stroke="#ff00ff" stroke-width="1.4" fill="none" stroke-linecap="round"/>
<path d="M501.1,22.89 Q505.7,23.49 504.7,26.09 Q503.9,28.29 501.1,28.79" stroke="#ff00ff" stroke-width="1.4" fill="none" stroke-linecap="round"/>
<path d="M481.68,6.4 Q486.28,7 485.28,9.6 Q484.48,11.8 481.68,12.3" stroke="#ff00ff" stroke-width="1.4" fill="none" stroke-linecap="round"/>
<rect x="644" y="6.5" width="35.4" height="91.7" fill="#fff" stroke="#5c5c5c" stroke-width="1" rx="0.5"/>
<line x1="644.6" y1="25" x2="652.8" y2="25" stroke="#ff8080" stroke-width="1.2"/>
<polygon points="648.7,21.85 649.9,23.34 651.7,24.03 650.65,25.63 650.55,27.55 648.7,27.05 646.85,27.55 646.75,25.63 645.7,24.03 647.5,23.34" fill="#ff8080" stroke="#ff8080" stroke-width="1.5" stroke-linejoin="round"/><circle cx="648.7" cy="25" r="0.7" fill="#fff" opacity="0.55"/>
<text x="653.9" y="22.6" font-family='"Liberation Sans", sans-serif' font-size="8.3" font-weight="normal" font-style="italic" fill="#222" text-anchor="start" stroke="#222" stroke-width="0.1" >t=2</text>
<line x1="644.6" y1="47.2" x2="652.8" y2="47.2" stroke="#800080" stroke-width="1.2"/>
<text x="648.8" y="50.7" font-family='"Liberation Sans", sans-serif' font-size="10" fill="#800080" stroke="#800080" stroke-width="0.35" text-anchor="middle">&#163;</text>
<text x="653.9" y="44.8" font-family='"Liberation Sans", sans-serif' font-size="8.3" font-weight="normal" font-style="italic" fill="#222" text-anchor="start" stroke="#222" stroke-width="0.1" >t=4</text>
<line x1="644.6" y1="69.1" x2="652.8" y2="69.1" stroke="#00ffff" stroke-width="1.2"/>
<path d="M645.4,69.9 L647.79,68.99 L648.7,67.3 L649.61,68.99 L652,69.9 L649.61,70.81 L648.7,72.5 L647.79,70.81 Z" fill="#00ffff" stroke="#00ffff" stroke-width="0.6" stroke-linejoin="round"/>
<text x="653.9" y="66.7" font-family='"Liberation Sans", sans-serif' font-size="8.3" font-weight="normal" font-style="italic" fill="#222" text-anchor="start" stroke="#222" stroke-width="0.1" >t=6</text>
<line x1="644.6" y1="91.1" x2="652.8" y2="91.1" stroke="#ff00ff" stroke-width="1.2"/>
<path d="M646.5,88.1 Q651.1,88.7 650.1,91.3 Q649.3,93.5 646.5,94" stroke="#ff00ff" stroke-width="1.4" fill="none" stroke-linecap="round"/>
<text x="653.9" y="88.7" font-family='"Liberation Sans", sans-serif' font-size="8.3" font-weight="normal" font-style="italic" fill="#222" text-anchor="start" stroke="#222" stroke-width="0.1" >t=8</text>
<text x="373.8" y="88.7" font-family='"Liberation Sans", sans-serif' font-size="10" font-weight="bold" font-style="normal" fill="#000" text-anchor="middle" transform="rotate(-90 373.8 88.7)">k&#8211;cut</text>
<line x1="276.38" y1="251.4" x2="276.38" y2="420.3" stroke="#000" stroke-opacity="0.18" stroke-width="1"/>
<line x1="332.46" y1="251.4" x2="332.46" y2="420.3" stroke="#000" stroke-opacity="0.18" stroke-width="1"/>
<line x1="388.54" y1="251.4" x2="388.54" y2="420.3" stroke="#000" stroke-opacity="0.18" stroke-width="1"/>
<line x1="444.62" y1="251.4" x2="444.62" y2="420.3" stroke="#000" stroke-opacity="0.18" stroke-width="1"/>
<line x1="214.5" y1="385.66" x2="487.5" y2="385.66" stroke="#000" stroke-opacity="0.18" stroke-width="1"/>
<line x1="214.5" y1="354.32" x2="487.5" y2="354.32" stroke="#000" stroke-opacity="0.18" stroke-width="1"/>
<line x1="214.5" y1="322.98" x2="487.5" y2="322.98" stroke="#000" stroke-opacity="0.18" stroke-width="1"/>
<line x1="214.5" y1="291.64" x2="487.5" y2="291.64" stroke="#000" stroke-opacity="0.18" stroke-width="1"/>
<line x1="214.5" y1="260.3" x2="487.5" y2="260.3" stroke="#000" stroke-opacity="0.18" stroke-width="1"/>
<line x1="220.3" y1="420.3" x2="220.3" y2="417.5" stroke="#a0a0a0" stroke-width="1"/>
<line x1="220.3" y1="251.4" x2="220.3" y2="254.2" stroke="#a0a0a0" stroke-width="1"/>
<line x1="276.38" y1="420.3" x2="276.38" y2="417.5" stroke="#a0a0a0" stroke-width="1"/>
<line x1="276.38" y1="251.4" x2="276.38" y2="254.2" stroke="#a0a0a0" stroke-width="1"/>
<line x1="332.46" y1="420.3" x2="332.46" y2="417.5" stroke="#a0a0a0" stroke-width="1"/>
<line x1="332.46" y1="251.4" x2="332.46" y2="254.2" stroke="#a0a0a0" stroke-width="1"/>
<line x1="388.54" y1="420.3" x2="388.54" y2="417.5" stroke="#a0a0a0" stroke-width="1"/>
<line x1="388.54" y1="251.4" x2="388.54" y2="254.2" stroke="#a0a0a0" stroke-width="1"/>
<line x1="444.62" y1="420.3" x2="444.62" y2="417.5" stroke="#a0a0a0" stroke-width="1"/>
<line x1="444.62" y1="251.4" x2="444.62" y2="254.2" stroke="#a0a0a0" stroke-width="1"/>
<line x1="231.52" y1="420.3" x2="231.52" y2="418.7" stroke="#a0a0a0" stroke-width="0.8"/>
<line x1="231.52" y1="251.4" x2="231.52" y2="253" stroke="#a0a0a0" stroke-width="0.8"/>
<line x1="242.73" y1="420.3" x2="242.73" y2="418.7" stroke="#a0a0a0" stroke-width="0.8"/>
<line x1="242.73" y1="251.4" x2="242.73" y2="253" stroke="#a0a0a0" stroke-width="0.8"/>
<line x1="253.95" y1="420.3" x2="253.95" y2="418.7" stroke="#a0a0a0" stroke-width="0.8"/>
<line x1="253.95" y1="251.4" x2="253.95" y2="253" stroke="#a0a0a0" stroke-width="0.8"/>
<line x1="265.16" y1="420.3" x2="265.16" y2="418.7" stroke="#a0a0a0" stroke-width="0.8"/>
<line x1="265.16" y1="251.4" x2="265.16" y2="253" stroke="#a0a0a0" stroke-width="0.8"/>
<line x1="287.6" y1="420.3" x2="287.6" y2="418.7" stroke="#a0a0a0" stroke-width="0.8"/>
<line x1="287.6" y1="251.4" x2="287.6" y2="253" stroke="#a0a0a0" stroke-width="0.8"/>
<line x1="298.81" y1="420.3" x2="298.81" y2="418.7" stroke="#a0a0a0" stroke-width="0.8"/>
<line x1="298.81" y1="251.4" x2="298.81" y2="253" stroke="#a0a0a0" stroke-width="0.8"/>
<line x1="310.03" y1="420.3" x2="310.03" y2="418.7" stroke="#a0a0a0" stroke-width="0.8"/>
<line x1="310.03" y1="251.4" x2="310.03" y2="253" stroke="#a0a0a0" stroke-width="0.8"/>
<line x1="321.24" y1="420.3" x2="321.24" y2="418.7" stroke="#a0a0a0" stroke-width="0.8"/>
<line x1="321.24" y1="251.4" x2="321.24" y2="253" stroke="#a0a0a0" stroke-width="0.8"/>
<line x1="343.68" y1="420.3" x2="343.68" y2="418.7" stroke="#a0a0a0" stroke-width="0.8"/>
<line x1="343.68" y1="251.4" x2="343.68" y2="253" stroke="#a0a0a0" stroke-width="0.8"/>
<line x1="354.89" y1="420.3" x2="354.89" y2="418.7" stroke="#a0a0a0" stroke-width="0.8"/>
<line x1="354.89" y1="251.4" x2="354.89" y2="253" stroke="#a0a0a0" stroke-width="0.8"/>
<line x1="366.11" y1="420.3" x2="366.11" y2="418.7" stroke="#a0a0a0" stroke-width="0.8"/>
<line x1="366.11" y1="251.4" x2="366.11" y2="253" stroke="#a0a0a0" stroke-width="0.8"/>
<line x1="377.32" y1="420.3" x2="377.32" y2="418.7" stroke="#a0a0a0" stroke-width="0.8"/>
<line x1="377.32" y1="251.4" x2="377.32" y2="253" stroke="#a0a0a0" stroke-width="0.8"/>
<line x1="399.76" y1="420.3" x2="399.76" y2="418.7" stroke="#a0a0a0" stroke-width="0.8"/>
<line x1="399.76" y1="251.4" x2="399.76" y2="253" stroke="#a0a0a0" stroke-width="0.8"/>
<line x1="410.97" y1="420.3" x2="410.97" y2="418.7" stroke="#a0a0a0" stroke-width="0.8"/>
<line x1="410.97" y1="251.4" x2="410.97" y2="253" stroke="#a0a0a0" stroke-width="0.8"/>
<line x1="422.19" y1="420.3" x2="422.19" y2="418.7" stroke="#a0a0a0" stroke-width="0.8"/>
<line x1="422.19" y1="251.4" x2="422.19" y2="253" stroke="#a0a0a0" stroke-width="0.8"/>
<line x1="433.4" y1="420.3" x2="433.4" y2="418.7" stroke="#a0a0a0" stroke-width="0.8"/>
<line x1="433.4" y1="251.4" x2="433.4" y2="253" stroke="#a0a0a0" stroke-width="0.8"/>
<line x1="455.84" y1="420.3" x2="455.84" y2="418.7" stroke="#a0a0a0" stroke-width="0.8"/>
<line x1="455.84" y1="251.4" x2="455.84" y2="253" stroke="#a0a0a0" stroke-width="0.8"/>
<line x1="467.05" y1="420.3" x2="467.05" y2="418.7" stroke="#a0a0a0" stroke-width="0.8"/>
<line x1="467.05" y1="251.4" x2="467.05" y2="253" stroke="#a0a0a0" stroke-width="0.8"/>
<line x1="478.27" y1="420.3" x2="478.27" y2="418.7" stroke="#a0a0a0" stroke-width="0.8"/>
<line x1="478.27" y1="251.4" x2="478.27" y2="253" stroke="#a0a0a0" stroke-width="0.8"/>
<line x1="489.48" y1="420.3" x2="489.48" y2="418.7" stroke="#a0a0a0" stroke-width="0.8"/>
<line x1="489.48" y1="251.4" x2="489.48" y2="253" stroke="#a0a0a0" stroke-width="0.8"/>
<line x1="214.5" y1="417" x2="217.3" y2="417" stroke="#a0a0a0" stroke-width="1"/>
<line x1="487.5" y1="417" x2="484.7" y2="417" stroke="#a0a0a0" stroke-width="1"/>
<line x1="214.5" y1="385.66" x2="217.3" y2="385.66" stroke="#a0a0a0" stroke-width="1"/>
<line x1="487.5" y1="385.66" x2="484.7" y2="385.66" stroke="#a0a0a0" stroke-width="1"/>
<line x1="214.5" y1="354.32" x2="217.3" y2="354.32" stroke="#a0a0a0" stroke-width="1"/>
<line x1="487.5" y1="354.32" x2="484.7" y2="354.32" stroke="#a0a0a0" stroke-width="1"/>
<line x1="214.5" y1="322.98" x2="217.3" y2="322.98" stroke="#a0a0a0" stroke-width="1"/>
<line x1="487.5" y1="322.98" x2="484.7" y2="322.98" stroke="#a0a0a0" stroke-width="1"/>
<line x1="214.5" y1="291.64" x2="217.3" y2="291.64" stroke="#a0a0a0" stroke-width="1"/>
<line x1="487.5" y1="291.64" x2="484.7" y2="291.64" stroke="#a0a0a0" stroke-width="1"/>
<line x1="214.5" y1="260.3" x2="217.3" y2="260.3" stroke="#a0a0a0" stroke-width="1"/>
<line x1="487.5" y1="260.3" x2="484.7" y2="260.3" stroke="#a0a0a0" stroke-width="1"/>
<line x1="214.5" y1="409.17" x2="216.1" y2="409.17" stroke="#a0a0a0" stroke-width="0.8"/>
<line x1="487.5" y1="409.17" x2="485.9" y2="409.17" stroke="#a0a0a0" stroke-width="0.8"/>
<line x1="214.5" y1="401.33" x2="216.1" y2="401.33" stroke="#a0a0a0" stroke-width="0.8"/>
<line x1="487.5" y1="401.33" x2="485.9" y2="401.33" stroke="#a0a0a0" stroke-width="0.8"/>
<line x1="214.5" y1="393.5" x2="216.1" y2="393.5" stroke="#a0a0a0" stroke-width="0.8"/>
<line x1="487.5" y1="393.5" x2="485.9" y2="393.5" stroke="#a0a0a0" stroke-width="0.8"/>
<line x1="214.5" y1="377.82" x2="216.1" y2="377.82" stroke="#a0a0a0" stroke-width="0.8"/>
<line x1="487.5" y1="377.82" x2="485.9" y2="377.82" stroke="#a0a0a0" stroke-width="0.8"/>
<line x1="214.5" y1="369.99" x2="216.1" y2="369.99" stroke="#a0a0a0" stroke-width="0.8"/>
<line x1="487.5" y1="369.99" x2="485.9" y2="369.99" stroke="#a0a0a0" stroke-width="0.8"/>
<line x1="214.5" y1="362.16" x2="216.1" y2="362.16" stroke="#a0a0a0" stroke-width="0.8"/>
<line x1="487.5" y1="362.16" x2="485.9" y2="362.16" stroke="#a0a0a0" stroke-width="0.8"/>
<line x1="214.5" y1="346.49" x2="216.1" y2="346.49" stroke="#a0a0a0" stroke-width="0.8"/>
<line x1="487.5" y1="346.49" x2="485.9" y2="346.49" stroke="#a0a0a0" stroke-width="0.8"/>
<line x1="214.5" y1="338.65" x2="216.1" y2="338.65" stroke="#a0a0a0" stroke-width="0.8"/>
<line x1="487.5" y1="338.65" x2="485.9" y2="338.65" stroke="#a0a0a0" stroke-width="0.8"/>
<line x1="214.5" y1="330.81" x2="216.1" y2="330.81" stroke="#a0a0a0" stroke-width="0.8"/>
<line x1="487.5" y1="330.81" x2="485.9" y2="330.81" stroke="#a0a0a0" stroke-width="0.8"/>
<line x1="214.5" y1="315.14" x2="216.1" y2="315.14" stroke="#a0a0a0" stroke-width="0.8"/>
<line x1="487.5" y1="315.14" x2="485.9" y2="315.14" stroke="#a0a0a0" stroke-width="0.8"/>
<line x1="214.5" y1="307.31" x2="216.1" y2="307.31" stroke="#a0a0a0" stroke-width="0.8"/>
<line x1="487.5" y1="307.31" x2="485.9" y2="307.31" stroke="#a0a0a0" stroke-width="0.8"/>
<line x1="214.5" y1="299.48" x2="216.1" y2="299.48" stroke="#a0a0a0" stroke-width="0.8"/>
<line x1="487.5" y1="299.48" x2="485.9" y2="299.48" stroke="#a0a0a0" stroke-width="0.8"/>
<line x1="214.5" y1="283.81" x2="216.1" y2="283.81" stroke="#a0a0a0" stroke-width="0.8"/>
<line x1="487.5" y1="283.81" x2="485.9" y2="283.81" stroke="#a0a0a0" stroke-width="0.8"/>
<line x1="214.5" y1="275.97" x2="216.1" y2="275.97" stroke="#a0a0a0" stroke-width="0.8"/>
<line x1="487.5" y1="275.97" x2="485.9" y2="275.97" stroke="#a0a0a0" stroke-width="0.8"/>
<line x1="214.5" y1="268.13" x2="216.1" y2="268.13" stroke="#a0a0a0" stroke-width="0.8"/>
<line x1="487.5" y1="268.13" x2="485.9" y2="268.13" stroke="#a0a0a0" stroke-width="0.8"/>
<line x1="214.5" y1="252.47" x2="216.1" y2="252.47" stroke="#a0a0a0" stroke-width="0.8"/>
<line x1="487.5" y1="252.47" x2="485.9" y2="252.47" stroke="#a0a0a0" stroke-width="0.8"/>
<rect x="214.5" y="251.4" width="273" height="168.9" fill="none" stroke="#a0a0a0" stroke-width="1.1"/>
<text x="220.3" y="432.5" font-family='"Liberation Sans", sans-serif' font-size="9.5" font-weight="bold" font-style="normal" fill="#666666" text-anchor="middle" stroke="#666666" stroke-width="0.2" >0</text>
<text x="276.38" y="432.5" font-family='"Liberation Sans", sans-serif' font-size="9.5" font-weight="bold" font-style="normal" fill="#666666" text-anchor="middle" stroke="#666666" stroke-width="0.2" >1</text>
<text x="332.46" y="432.5" font-family='"Liberation Sans", sans-serif' font-size="9.5" font-weight="bold" font-style="normal" fill="#666666" text-anchor="middle" stroke="#666666" stroke-width="0.2" >2</text>
<text x="388.54" y="432.5" font-family='"Liberation Sans", sans-serif' font-size="9.5" font-weight="bold" font-style="normal" fill="#666666" text-anchor="middle" stroke="#666666" stroke-width="0.2" >3</text>
<text x="444.62" y="432.5" font-family='"Liberation Sans", sans-serif' font-size="9.5" font-weight="bold" font-style="normal" fill="#666666" text-anchor="middle" stroke="#666666" stroke-width="0.2" >4</text>
<text x="211.1" y="420.6" font-family='"Liberation Sans", sans-serif' font-size="9.8" font-weight="bold" font-style="normal" fill="#666666" text-anchor="end" stroke="#666666" stroke-width="0.2" >0.0</text>
<text x="211.1" y="389.26" font-family='"Liberation Sans", sans-serif' font-size="9.8" font-weight="bold" font-style="normal" fill="#666666" text-anchor="end" stroke="#666666" stroke-width="0.2" >0.2</text>
<text x="211.1" y="357.92" font-family='"Liberation Sans", sans-serif' font-size="9.8" font-weight="bold" font-style="normal" fill="#666666" text-anchor="end" stroke="#666666" stroke-width="0.2" >0.4</text>
<text x="211.1" y="326.58" font-family='"Liberation Sans", sans-serif' font-size="9.8" font-weight="bold" font-style="normal" fill="#666666" text-anchor="end" stroke="#666666" stroke-width="0.2" >0.6</text>
<text x="211.1" y="295.24" font-family='"Liberation Sans", sans-serif' font-size="9.8" font-weight="bold" font-style="normal" fill="#666666" text-anchor="end" stroke="#666666" stroke-width="0.2" >0.8</text>
<text x="211.1" y="263.9" font-family='"Liberation Sans", sans-serif' font-size="9.8" font-weight="bold" font-style="normal" fill="#666666" text-anchor="end" stroke="#666666" stroke-width="0.2" >1.0</text>
<line x1="252.1" y1="417" x2="331.79" y2="260.3" stroke="#ff0000" stroke-width="1.6" stroke-linecap="butt"/>
<polygon points="252.1,413.85 253.3,415.34 255.09,416.03 254.05,417.63 253.95,419.55 252.1,419.05 250.25,419.55 250.15,417.63 249.1,416.03 250.89,415.34" fill="#ff0000" stroke="#ff0000" stroke-width="1.5" stroke-linejoin="round"/><circle cx="252.1" cy="417" r="0.7" fill="#fff" opacity="0.55"/>
<polygon points="260.07,398.18 261.27,399.67 263.06,400.36 262.02,401.96 261.92,403.88 260.07,403.38 258.21,403.88 258.12,401.96 257.07,400.36 258.86,399.67" fill="#ff0000" stroke="#ff0000" stroke-width="1.5" stroke-linejoin="round"/><circle cx="260.07" cy="401.33" r="0.7" fill="#fff" opacity="0.55"/>
<polygon points="268.04,382.51 269.24,384 271.03,384.69 269.98,386.29 269.89,388.21 268.04,387.71 266.18,388.21 266.09,386.29 265.04,384.69 266.83,384" fill="#ff0000" stroke="#ff0000" stroke-width="1.5" stroke-linejoin="round"/><circle cx="268.04" cy="385.66" r="0.7" fill="#fff" opacity="0.55"/>
<polygon points="276,366.84 277.21,368.33 279,369.02 277.95,370.62 277.86,372.54 276,372.04 274.15,372.54 274.05,370.62 273.01,369.02 274.8,368.33" fill="#ff0000" stroke="#ff0000" stroke-width="1.5" stroke-linejoin="round"/><circle cx="276" cy="369.99" r="0.7" fill="#fff" opacity="0.55"/>
<polygon points="283.97,351.17 285.18,352.66 286.97,353.35 285.92,354.95 285.82,356.87 283.97,356.37 282.12,356.87 282.02,354.95 280.98,353.35 282.77,352.66" fill="#ff0000" stroke="#ff0000" stroke-width="1.5" stroke-linejoin="round"/><circle cx="283.97" cy="354.32" r="0.7" fill="#fff" opacity="0.55"/>
<polygon points="291.94,335.5 293.15,336.99 294.94,337.68 293.89,339.28 293.79,341.2 291.94,340.7 290.09,341.2 289.99,339.28 288.95,337.68 290.74,336.99" fill="#ff0000" stroke="#ff0000" stroke-width="1.5" stroke-linejoin="round"/><circle cx="291.94" cy="338.65" r="0.7" fill="#fff" opacity="0.55"/>
<polygon points="299.91,319.83 301.12,321.32 302.91,322.01 301.86,323.61 301.76,325.53 299.91,325.03 298.06,325.53 297.96,323.61 296.92,322.01 298.71,321.32" fill="#ff0000" stroke="#ff0000" stroke-width="1.5" stroke-linejoin="round"/><circle cx="299.91" cy="322.98" r="0.7" fill="#fff" opacity="0.55"/>
<polygon points="307.88,304.16 309.09,305.65 310.88,306.34 309.83,307.94 309.73,309.86 307.88,309.36 306.03,309.86 305.93,307.94 304.88,306.34 306.68,305.65" fill="#ff0000" stroke="#ff0000" stroke-width="1.5" stroke-linejoin="round"/><circle cx="307.88" cy="307.31" r="0.7" fill="#fff" opacity="0.55"/>
<polygon points="315.85,288.49 317.05,289.98 318.84,290.67 317.8,292.27 317.7,294.19 315.85,293.69 314,294.19 313.9,292.27 312.85,290.67 314.64,289.98" fill="#ff0000" stroke="#ff0000" stroke-width="1.5" stroke-linejoin="round"/><circle cx="315.85" cy="291.64" r="0.7" fill="#fff" opacity="0.55"/>
<polygon points="323.82,272.82 325.02,274.31 326.81,275 325.77,276.6 325.67,278.52 323.82,278.02 321.97,278.52 321.87,276.6 320.82,275 322.61,274.31" fill="#ff0000" stroke="#ff0000" stroke-width="1.5" stroke-linejoin="round"/><circle cx="323.82" cy="275.97" r="0.7" fill="#fff" opacity="0.55"/>
<polygon points="331.79,257.15 332.99,258.64 334.78,259.33 333.74,260.93 333.64,262.85 331.79,262.35 329.94,262.85 329.84,260.93 328.79,259.33 330.58,258.64" fill="#ff0000" stroke="#ff0000" stroke-width="1.5" stroke-linejoin="round"/><circle cx="331.79" cy="260.3" r="0.7" fill="#fff" opacity="0.55"/>
<line x1="255.13" y1="417" x2="341.38" y2="260.3" stroke="#0000ff" stroke-width="1.6" stroke-linecap="butt"/>
<text x="255.23" y="420.5" font-family='"Liberation Sans", sans-serif' font-size="10" fill="#0000ff" stroke="#0000ff" stroke-width="0.35" text-anchor="middle">&#163;</text>
<text x="263.85" y="404.83" font-family='"Liberation Sans", sans-serif' font-size="10" fill="#0000ff" stroke="#0000ff" stroke-width="0.35" text-anchor="middle">&#163;</text>
<text x="272.48" y="389.16" font-family='"Liberation Sans", sans-serif' font-size="10" fill="#0000ff" stroke="#0000ff" stroke-width="0.35" text-anchor="middle">&#163;</text>
<text x="281.1" y="373.49" font-family='"Liberation Sans", sans-serif' font-size="10" fill="#0000ff" stroke="#0000ff" stroke-width="0.35" text-anchor="middle">&#163;</text>
<text x="289.73" y="357.82" font-family='"Liberation Sans", sans-serif' font-size="10" fill="#0000ff" stroke="#0000ff" stroke-width="0.35" text-anchor="middle">&#163;</text>
<text x="298.35" y="342.15" font-family='"Liberation Sans", sans-serif' font-size="10" fill="#0000ff" stroke="#0000ff" stroke-width="0.35" text-anchor="middle">&#163;</text>
<text x="306.98" y="326.48" font-family='"Liberation Sans", sans-serif' font-size="10" fill="#0000ff" stroke="#0000ff" stroke-width="0.35" text-anchor="middle">&#163;</text>
<text x="315.6" y="310.81" font-family='"Liberation Sans", sans-serif' font-size="10" fill="#0000ff" stroke="#0000ff" stroke-width="0.35" text-anchor="middle">&#163;</text>
<text x="324.23" y="295.14" font-family='"Liberation Sans", sans-serif' font-size="10" fill="#0000ff" stroke="#0000ff" stroke-width="0.35" text-anchor="middle">&#163;</text>
<text x="332.85" y="279.47" font-family='"Liberation Sans", sans-serif' font-size="10" fill="#0000ff" stroke="#0000ff" stroke-width="0.35" text-anchor="middle">&#163;</text>
<text x="341.48" y="263.8" font-family='"Liberation Sans", sans-serif' font-size="10" fill="#0000ff" stroke="#0000ff" stroke-width="0.35" text-anchor="middle">&#163;</text>
<line x1="259.39" y1="417" x2="355.23" y2="260.3" stroke="#00ff00" stroke-width="1.6" stroke-linecap="butt"/>
<path d="M256.09,417.8 L258.48,416.89 L259.39,415.2 L260.3,416.89 L262.69,417.8 L260.3,418.71 L259.39,420.4 L258.48,418.71 Z" fill="#00ff00" stroke="#00ff00" stroke-width="0.6" stroke-linejoin="round"/>
<path d="M265.67,402.13 L268.06,401.22 L268.97,399.53 L269.88,401.22 L272.27,402.13 L269.88,403.04 L268.97,404.73 L268.06,403.04 Z" fill="#00ff00" stroke="#00ff00" stroke-width="0.6" stroke-linejoin="round"/>
<path d="M275.26,386.46 L277.65,385.55 L278.56,383.86 L279.47,385.55 L281.86,386.46 L279.47,387.37 L278.56,389.06 L277.65,387.37 Z" fill="#00ff00" stroke="#00ff00" stroke-width="0.6" stroke-linejoin="round"/>
<path d="M284.84,370.79 L287.23,369.88 L288.14,368.19 L289.05,369.88 L291.44,370.79 L289.05,371.7 L288.14,373.39 L287.23,371.7 Z" fill="#00ff00" stroke="#00ff00" stroke-width="0.6" stroke-linejoin="round"/>
<path d="M294.42,355.12 L296.81,354.21 L297.72,352.52 L298.63,354.21 L301.02,355.12 L298.63,356.03 L297.72,357.72 L296.81,356.03 Z" fill="#00ff00" stroke="#00ff00" stroke-width="0.6" stroke-linejoin="round"/>
<path d="M304.01,339.45 L306.4,338.54 L307.31,336.85 L308.22,338.54 L310.61,339.45 L308.22,340.36 L307.31,342.05 L306.4,340.36 Z" fill="#00ff00" stroke="#00ff00" stroke-width="0.6" stroke-linejoin="round"/>
<path d="M313.59,323.78 L315.98,322.87 L316.89,321.18 L317.8,322.87 L320.19,323.78 L317.8,324.69 L316.89,326.38 L315.98,324.69 Z" fill="#00ff00" stroke="#00ff00" stroke-width="0.6" stroke-linejoin="round"/>
<path d="M323.18,308.11 L325.57,307.2 L326.48,305.51 L327.39,307.2 L329.78,308.11 L327.39,309.02 L326.48,310.71 L325.57,309.02 Z" fill="#00ff00" stroke="#00ff00" stroke-width="0.6" stroke-linejoin="round"/>
<path d="M332.76,292.44 L335.15,291.53 L336.06,289.84 L336.97,291.53 L339.36,292.44 L336.97,293.35 L336.06,295.04 L335.15,293.35 Z" fill="#00ff00" stroke="#00ff00" stroke-width="0.6" stroke-linejoin="round"/>
<path d="M342.34,276.77 L344.73,275.86 L345.64,274.17 L346.55,275.86 L348.94,276.77 L346.55,277.68 L345.64,279.37 L344.73,277.68 Z" fill="#00ff00" stroke="#00ff00" stroke-width="0.6" stroke-linejoin="round"/>
<path d="M351.93,261.1 L354.32,260.19 L355.23,258.5 L356.14,260.19 L358.53,261.1 L356.14,262.01 L355.23,263.7 L354.32,262.01 Z" fill="#00ff00" stroke="#00ff00" stroke-width="0.6" stroke-linejoin="round"/>
<line x1="265.22" y1="417" x2="373.96" y2="260.3" stroke="#ffff00" stroke-width="1.6" stroke-linecap="butt"/>
<path d="M263.02,414 Q267.62,414.6 266.62,417.2 Q265.82,419.4 263.02,419.9" stroke="#ffff00" stroke-width="1.4" fill="none" stroke-linecap="round"/>
<path d="M273.89,398.33 Q278.49,398.93 277.49,401.53 Q276.69,403.73 273.89,404.23" stroke="#ffff00" stroke-width="1.4" fill="none" stroke-linecap="round"/>
<path d="M284.77,382.66 Q289.37,383.26 288.37,385.86 Q287.57,388.06 284.77,388.56" stroke="#ffff00" stroke-width="1.4" fill="none" stroke-linecap="round"/>
<path d="M295.64,366.99 Q300.24,367.59 299.24,370.19 Q298.44,372.39 295.64,372.89" stroke="#ffff00" stroke-width="1.4" fill="none" stroke-linecap="round"/>
<path d="M306.52,351.32 Q311.12,351.92 310.12,354.52 Q309.32,356.72 306.52,357.22" stroke="#ffff00" stroke-width="1.4" fill="none" stroke-linecap="round"/>
<path d="M317.39,335.65 Q321.99,336.25 320.99,338.85 Q320.19,341.05 317.39,341.55" stroke="#ffff00" stroke-width="1.4" fill="none" stroke-linecap="round"/>
<path d="M328.26,319.98 Q332.86,320.58 331.86,323.18 Q331.06,325.38 328.26,325.88" stroke="#ffff00" stroke-width="1.4" fill="none" stroke-linecap="round"/>
<path d="M339.14,304.31 Q343.74,304.91 342.74,307.51 Q341.94,309.71 339.14,310.21" stroke="#ffff00" stroke-width="1.4" fill="none" stroke-linecap="round"/>
<path d="M350.01,288.64 Q354.61,289.24 353.61,291.84 Q352.81,294.04 350.01,294.54" stroke="#ffff00" stroke-width="1.4" fill="none" stroke-linecap="round"/>
<path d="M360.89,272.97 Q365.49,273.57 364.49,276.17 Q363.69,278.37 360.89,278.87" stroke="#ffff00" stroke-width="1.4" fill="none" stroke-linecap="round"/>
<path d="M371.76,257.3 Q376.36,257.9 375.36,260.5 Q374.56,262.7 371.76,263.2" stroke="#ffff00" stroke-width="1.4" fill="none" stroke-linecap="round"/>
<line x1="409.96" y1="417" x2="331.79" y2="260.3" stroke="#ff8080" stroke-width="1.6" stroke-linecap="butt"/>
<path d="M408.36,420 v-6 h2.5 a1.7,1.7 0 0 1 0,3.4 h-2.5 M409.96,417.4 l2.2,2.6" stroke="#ff8080" stroke-width="1.6" fill="#ff8080"/>
<path d="M400.55,404.33 v-6 h2.5 a1.7,1.7 0 0 1 0,3.4 h-2.5 M402.15,401.73 l2.2,2.6" stroke="#ff8080" stroke-width="1.6" fill="#ff8080"/>
<path d="M392.73,388.66 v-6 h2.5 a1.7,1.7 0 0 1 0,3.4 h-2.5 M394.33,386.06 l2.2,2.6" stroke="#ff8080" stroke-width="1.6" fill="#ff8080"/>
<path d="M384.91,372.99 v-6 h2.5 a1.7,1.7 0 0 1 0,3.4 h-2.5 M386.51,370.39 l2.2,2.6" stroke="#ff8080" stroke-width="1.6" fill="#ff8080"/>
<path d="M377.09,357.32 v-6 h2.5 a1.7,1.7 0 0 1 0,3.4 h-2.5 M378.69,354.72 l2.2,2.6" stroke="#ff8080" stroke-width="1.6" fill="#ff8080"/>
<path d="M369.27,341.65 v-6 h2.5 a1.7,1.7 0 0 1 0,3.4 h-2.5 M370.87,339.05 l2.2,2.6" stroke="#ff8080" stroke-width="1.6" fill="#ff8080"/>
<path d="M361.46,325.98 v-6 h2.5 a1.7,1.7 0 0 1 0,3.4 h-2.5 M363.06,323.38 l2.2,2.6" stroke="#ff8080" stroke-width="1.6" fill="#ff8080"/>
<path d="M353.64,310.31 v-6 h2.5 a1.7,1.7 0 0 1 0,3.4 h-2.5 M355.24,307.71 l2.2,2.6" stroke="#ff8080" stroke-width="1.6" fill="#ff8080"/>
<path d="M345.82,294.64 v-6 h2.5 a1.7,1.7 0 0 1 0,3.4 h-2.5 M347.42,292.04 l2.2,2.6" stroke="#ff8080" stroke-width="1.6" fill="#ff8080"/>
<path d="M338,278.97 v-6 h2.5 a1.7,1.7 0 0 1 0,3.4 h-2.5 M339.6,276.37 l2.2,2.6" stroke="#ff8080" stroke-width="1.6" fill="#ff8080"/>
<path d="M330.19,263.3 v-6 h2.5 a1.7,1.7 0 0 1 0,3.4 h-2.5 M331.79,260.7 l2.2,2.6" stroke="#ff8080" stroke-width="1.6" fill="#ff8080"/>
<line x1="425.72" y1="417" x2="341.38" y2="260.3" stroke="#800080" stroke-width="1.7" stroke-linecap="butt"/>
<rect x="423.62" y="416.2" width="3.6" height="3.6" fill="none" stroke="#800080" stroke-width="1"/>
<rect x="415.19" y="400.53" width="3.6" height="3.6" fill="none" stroke="#800080" stroke-width="1"/>
<rect x="406.75" y="384.86" width="3.6" height="3.6" fill="none" stroke="#800080" stroke-width="1"/>
<rect x="398.32" y="369.19" width="3.6" height="3.6" fill="none" stroke="#800080" stroke-width="1"/>
<rect x="389.88" y="353.52" width="3.6" height="3.6" fill="none" stroke="#800080" stroke-width="1"/>
<rect x="381.45" y="337.85" width="3.6" height="3.6" fill="none" stroke="#800080" stroke-width="1"/>
<rect x="373.01" y="322.18" width="3.6" height="3.6" fill="none" stroke="#800080" stroke-width="1"/>
<rect x="364.58" y="306.51" width="3.6" height="3.6" fill="none" stroke="#800080" stroke-width="1"/>
<rect x="356.15" y="290.84" width="3.6" height="3.6" fill="none" stroke="#800080" stroke-width="1"/>
<rect x="347.71" y="275.17" width="3.6" height="3.6" fill="none" stroke="#800080" stroke-width="1"/>
<rect x="339.28" y="259.5" width="3.6" height="3.6" fill="none" stroke="#800080" stroke-width="1"/>
<line x1="449.44" y1="417" x2="355.23" y2="260.3" stroke="#00ffff" stroke-width="1.7" stroke-linecap="butt"/>
<circle cx="449.44" cy="417" r="1.6" fill="#00ffff"/>
<circle cx="440.02" cy="401.33" r="1.6" fill="#00ffff"/>
<circle cx="430.6" cy="385.66" r="1.6" fill="#00ffff"/>
<circle cx="421.18" cy="369.99" r="1.6" fill="#00ffff"/>
<circle cx="411.76" cy="354.32" r="1.6" fill="#00ffff"/>
<circle cx="402.34" cy="338.65" r="1.6" fill="#00ffff"/>
<circle cx="392.91" cy="322.98" r="1.6" fill="#00ffff"/>
<circle cx="383.49" cy="307.31" r="1.6" fill="#00ffff"/>
<circle cx="374.07" cy="291.64" r="1.6" fill="#00ffff"/>
<circle cx="364.65" cy="275.97" r="1.6" fill="#00ffff"/>
<circle cx="355.23" cy="260.3" r="1.6" fill="#00ffff"/>
<line x1="481.69" y1="417" x2="373.96" y2="260.3" stroke="#ff00ff" stroke-width="1.7" stroke-linecap="butt"/>
<path d="M481.09,416.4 l2.2,3.6 h-4.4 z" fill="none" stroke="#ff00ff" stroke-width="1"/>
<path d="M470.32,400.73 l2.2,3.6 h-4.4 z" fill="none" stroke="#ff00ff" stroke-width="1"/>
<path d="M459.54,385.06 l2.2,3.6 h-4.4 z" fill="none" stroke="#ff00ff" stroke-width="1"/>
<path d="M448.77,369.39 l2.2,3.6 h-4.4 z" fill="none" stroke="#ff00ff" stroke-width="1"/>
<path d="M438,353.72 l2.2,3.6 h-4.4 z" fill="none" stroke="#ff00ff" stroke-width="1"/>
<path d="M427.22,338.05 l2.2,3.6 h-4.4 z" fill="none" stroke="#ff00ff" stroke-width="1"/>
<path d="M416.45,322.38 l2.2,3.6 h-4.4 z" fill="none" stroke="#ff00ff" stroke-width="1"/>
<path d="M405.68,306.71 l2.2,3.6 h-4.4 z" fill="none" stroke="#ff00ff" stroke-width="1"/>
<path d="M394.91,291.04 l2.2,3.6 h-4.4 z" fill="none" stroke="#ff00ff" stroke-width="1"/>
<path d="M384.13,275.37 l2.2,3.6 h-4.4 z" fill="none" stroke="#ff00ff" stroke-width="1"/>
<path d="M373.36,259.7 l2.2,3.6 h-4.4 z" fill="none" stroke="#ff00ff" stroke-width="1"/>
<rect x="449.7" y="260.7" width="35.8" height="91.1" fill="#fff" stroke="#5c5c5c" stroke-width="1" rx="0.5"/>
<line x1="450.8" y1="268" x2="458.8" y2="268" stroke="#ff0000" stroke-width="1.3"/>
<polygon points="454.8,264.85 456,266.34 457.8,267.03 456.75,268.63 456.65,270.55 454.8,270.05 452.95,270.55 452.85,268.63 451.8,267.03 453.6,266.34" fill="#ff0000" stroke="#ff0000" stroke-width="1.5" stroke-linejoin="round"/><circle cx="454.8" cy="268" r="0.7" fill="#fff" opacity="0.55"/>
<text x="459.6" y="270.4" font-family='"Liberation Sans", sans-serif' font-size="8.2" font-weight="normal" font-style="italic" fill="#111" text-anchor="start" stroke="#111" stroke-width="0.15" >t=2</text>
<line x1="450.8" y1="279.1" x2="458.8" y2="279.1" stroke="#0000ff" stroke-width="1.3"/>
<text x="454.9" y="282.6" font-family='"Liberation Sans", sans-serif' font-size="10" fill="#0000ff" stroke="#0000ff" stroke-width="0.35" text-anchor="middle">&#163;</text>
<text x="459.6" y="281.5" font-family='"Liberation Sans", sans-serif' font-size="8.2" font-weight="normal" font-style="italic" fill="#111" text-anchor="start" stroke="#111" stroke-width="0.15" >t=4</text>
<line x1="450.8" y1="290.2" x2="458.8" y2="290.2" stroke="#00ff00" stroke-width="1.3"/>
<path d="M451.5,291 L453.89,290.09 L454.8,288.4 L455.71,290.09 L458.1,291 L455.71,291.91 L454.8,293.6 L453.89,291.91 Z" fill="#00ff00" stroke="#00ff00" stroke-width="0.6" stroke-linejoin="round"/>
<text x="459.6" y="292.6" font-family='"Liberation Sans", sans-serif' font-size="8.2" font-weight="normal" font-style="italic" fill="#111" text-anchor="start" stroke="#111" stroke-width="0.15" >t=6</text>
<line x1="450.8" y1="301.3" x2="458.8" y2="301.3" stroke="#ffff00" stroke-width="1.3"/>
<path d="M452.6,298.3 Q457.2,298.9 456.2,301.5 Q455.4,303.7 452.6,304.2" stroke="#ffff00" stroke-width="1.4" fill="none" stroke-linecap="round"/>
<text x="459.6" y="303.7" font-family='"Liberation Sans", sans-serif' font-size="8.2" font-weight="normal" font-style="italic" fill="#111" text-anchor="start" stroke="#111" stroke-width="0.15" >t=8</text>
<line x1="450.8" y1="312.4" x2="458.8" y2="312.4" stroke="#ff8080" stroke-width="1.3"/>
<path d="M453.2,315.4 v-6 h2.5 a1.7,1.7 0 0 1 0,3.4 h-2.5 M454.8,312.8 l2.2,2.6" stroke="#ff8080" stroke-width="1.6" fill="#ff8080"/>
<text x="459.6" y="314.8" font-family='"Liberation Sans", sans-serif' font-size="8.2" font-weight="normal" font-style="italic" fill="#111" text-anchor="start" stroke="#111" stroke-width="0.15" >t=2</text>
<line x1="450.8" y1="323.5" x2="458.8" y2="323.5" stroke="#800080" stroke-width="1.3"/>
<rect x="452.7" y="322.7" width="3.6" height="3.6" fill="none" stroke="#800080" stroke-width="1"/>
<text x="459.6" y="325.9" font-family='"Liberation Sans", sans-serif' font-size="8.2" font-weight="normal" font-style="italic" fill="#111" text-anchor="start" stroke="#111" stroke-width="0.15" >t=4</text>
<line x1="450.8" y1="334.6" x2="458.8" y2="334.6" stroke="#00ffff" stroke-width="1.3"/>
<circle cx="454.8" cy="334.6" r="1.6" fill="#00ffff"/>
<text x="459.6" y="337" font-family='"Liberation Sans", sans-serif' font-size="8.2" font-weight="normal" font-style="italic" fill="#111" text-anchor="start" stroke="#111" stroke-width="0.15" >t=6</text>
<line x1="450.8" y1="345.7" x2="458.8" y2="345.7" stroke="#ff00ff" stroke-width="1.3"/>
<path d="M454.2,345.1 l2.2,3.6 h-4.4 z" fill="none" stroke="#ff00ff" stroke-width="1"/>
<text x="459.6" y="348.1" font-family='"Liberation Sans", sans-serif' font-size="8.2" font-weight="normal" font-style="italic" fill="#111" text-anchor="start" stroke="#111" stroke-width="0.15" >t=8</text>
<text x="190.6" y="335.6" font-family='"Liberation Sans", sans-serif' font-size="10" font-weight="bold" font-style="normal" fill="#000" text-anchor="middle" transform="rotate(-90 190.6 335.6)">k&#8211;cut</text>
<text x="155.6" y="209.7" font-family='"Liberation Serif", serif' font-size="19.5" font-weight="normal" font-style="italic" fill="#666666" text-anchor="start" stroke="#666666" stroke-width="0.75" >C</text>
<text x="167.9" y="209.9" font-family='"Liberation Sans", sans-serif' font-size="13.6" font-weight="bold" font-style="normal" fill="#666666" text-anchor="start" stroke="#666666" stroke-width="0.45" >(x,t)</text>
<line x1="155.8" y1="214.4" x2="194" y2="214.4" stroke="#666666" stroke-width="1.2"/>
<text x="522.2" y="215.3" font-family='"Liberation Serif", serif' font-size="19" font-weight="normal" font-style="italic" fill="#666666" text-anchor="start" stroke="#666666" stroke-width="0.75" >C</text>
<text x="534.2" y="214.1" font-family='"Liberation Sans", sans-serif' font-size="13.9" font-weight="bold" font-style="normal" fill="#666666" text-anchor="start" stroke="#666666" stroke-width="0.45" >(x,t)</text>
<line x1="522" y1="199.9" x2="560.1" y2="199.9" stroke="#666666" stroke-width="1.2"/>
<text x="331.8" y="464.7" font-family='"Liberation Serif", serif' font-size="20.5" font-weight="normal" font-style="italic" fill="#666666" text-anchor="start" stroke="#666666" stroke-width="0.75" >C</text>
<text x="345.8" y="465.2" font-family='"Liberation Sans", sans-serif' font-size="13.3" font-weight="bold" font-style="normal" fill="#666666" text-anchor="start" stroke="#666666" stroke-width="0.45" >(x,t)</text>
<path d="M335.4,447.1 Q336.6,444.7 338.3,445.9 Q340,447.1 341.1,445.0" stroke="#666666" stroke-width="1.35" fill="none" stroke-linecap="round"/>
<text x="171.1" y="245.3" font-family='"Liberation Serif", serif' font-size="15" font-weight="normal" font-style="normal" fill="#000" text-anchor="middle" stroke="#000" stroke-width="0.15" >(a)</text>
<text x="536.8" y="245.3" font-family='"Liberation Serif", serif' font-size="15" font-weight="normal" font-style="normal" fill="#000" text-anchor="middle" stroke="#000" stroke-width="0.15" >(b)</text>
<text x="354" y="496.8" font-family='"Liberation Serif", serif' font-size="15" font-weight="normal" font-style="normal" fill="#000" text-anchor="middle" stroke="#000" stroke-width="0.15" >(c)</text>
</svg></body></html>
